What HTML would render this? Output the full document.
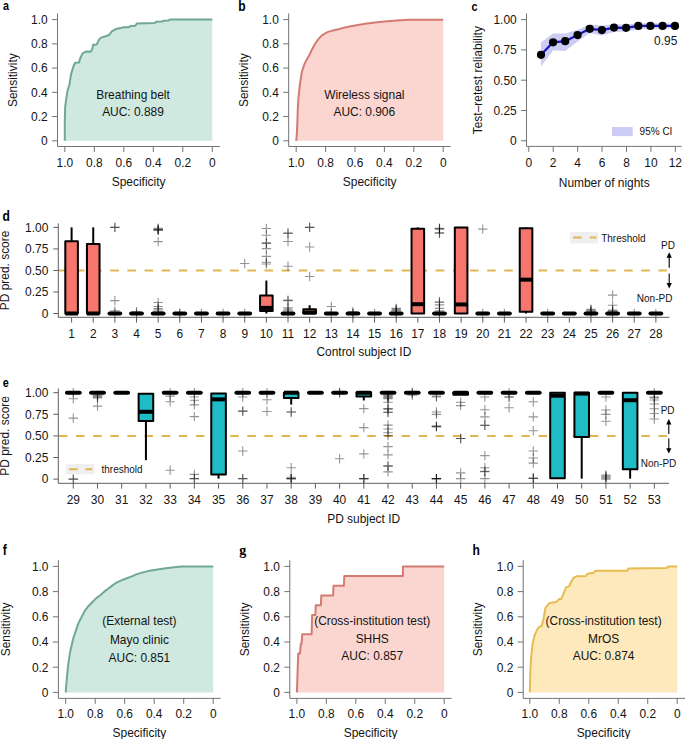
<!DOCTYPE html>
<html lang="en"><head><meta charset="utf-8"><title>Figure</title>
<style>
html,body{margin:0;padding:0;background:#fff;}
svg{display:block;}
svg text{font-family:"Liberation Sans", Arial, Helvetica, sans-serif;}
</style></head>
<body>
<svg width="685" height="739" viewBox="0 0 685 739">
<rect width="685" height="739" fill="#fff"/>
<path d="M64.8 140.8 L64.8 120.7 L65.2 106.5 L67.4 91.2 L69.5 84.2 L71.0 74.4 L73.4 66.5 L75.0 62.8 L78.9 62.6 L80.6 57.3 L82.9 53.1 L85.9 51.6 L90.7 51.8 L92.4 48.8 L93.1 44.8 L96.8 44.4 L99.0 39.6 L101.0 37.6 L105.6 36.3 L109.1 35.0 L111.5 31.7 L115.7 29.1 L120.7 28.1 L123.3 27.3 L128.6 27.3 L130.5 26.0 L135.1 25.8 L137.0 23.4 L154.7 23.1 L156.0 21.8 L161.9 21.6 L163.2 20.8 L168.5 20.4 L169.8 19.6 L212.3 19.6 L212.3 140.8 L64.8 140.8 Z" fill="#cfe8e0" stroke="none"/>
<path d="M64.8 140.8 L64.8 120.7 L65.2 106.5 L67.4 91.2 L69.5 84.2 L71.0 74.4 L73.4 66.5 L75.0 62.8 L78.9 62.6 L80.6 57.3 L82.9 53.1 L85.9 51.6 L90.7 51.8 L92.4 48.8 L93.1 44.8 L96.8 44.4 L99.0 39.6 L101.0 37.6 L105.6 36.3 L109.1 35.0 L111.5 31.7 L115.7 29.1 L120.7 28.1 L123.3 27.3 L128.6 27.3 L130.5 26.0 L135.1 25.8 L137.0 23.4 L154.7 23.1 L156.0 21.8 L161.9 21.6 L163.2 20.8 L168.5 20.4 L169.8 19.6 L212.3 19.6" fill="none" stroke="#70a797" stroke-width="2.0" stroke-linejoin="round" stroke-linecap="butt"/>
<path d="M57.50 13.40V146.50H219.90" fill="none" stroke="#6c6c6c" stroke-width="0.95"/>
<line x1="64.85" y1="146.50" x2="64.85" y2="152.00" stroke="#6c6c6c" stroke-width="0.95"/>
<text transform="translate(64.85 166.50) scale(1 1.06)" font-size="11.95" text-anchor="middle" fill="#141414">1.0</text>
<line x1="94.34" y1="146.50" x2="94.34" y2="152.00" stroke="#6c6c6c" stroke-width="0.95"/>
<text transform="translate(94.34 166.50) scale(1 1.06)" font-size="11.95" text-anchor="middle" fill="#141414">0.8</text>
<line x1="123.83" y1="146.50" x2="123.83" y2="152.00" stroke="#6c6c6c" stroke-width="0.95"/>
<text transform="translate(123.83 166.50) scale(1 1.06)" font-size="11.95" text-anchor="middle" fill="#141414">0.6</text>
<line x1="153.32" y1="146.50" x2="153.32" y2="152.00" stroke="#6c6c6c" stroke-width="0.95"/>
<text transform="translate(153.32 166.50) scale(1 1.06)" font-size="11.95" text-anchor="middle" fill="#141414">0.4</text>
<line x1="182.81" y1="146.50" x2="182.81" y2="152.00" stroke="#6c6c6c" stroke-width="0.95"/>
<text transform="translate(182.81 166.50) scale(1 1.06)" font-size="11.95" text-anchor="middle" fill="#141414">0.2</text>
<line x1="212.30" y1="146.50" x2="212.30" y2="152.00" stroke="#6c6c6c" stroke-width="0.95"/>
<text transform="translate(212.30 166.50) scale(1 1.06)" font-size="11.95" text-anchor="middle" fill="#141414">0</text>
<line x1="52.00" y1="19.60" x2="57.50" y2="19.60" stroke="#6c6c6c" stroke-width="0.95"/>
<text transform="translate(47.60 23.90) scale(1 1.06)" font-size="11.95" text-anchor="end" fill="#141414">1.0</text>
<line x1="52.00" y1="43.84" x2="57.50" y2="43.84" stroke="#6c6c6c" stroke-width="0.95"/>
<text transform="translate(47.60 48.14) scale(1 1.06)" font-size="11.95" text-anchor="end" fill="#141414">0.8</text>
<line x1="52.00" y1="68.08" x2="57.50" y2="68.08" stroke="#6c6c6c" stroke-width="0.95"/>
<text transform="translate(47.60 72.38) scale(1 1.06)" font-size="11.95" text-anchor="end" fill="#141414">0.6</text>
<line x1="52.00" y1="92.32" x2="57.50" y2="92.32" stroke="#6c6c6c" stroke-width="0.95"/>
<text transform="translate(47.60 96.62) scale(1 1.06)" font-size="11.95" text-anchor="end" fill="#141414">0.4</text>
<line x1="52.00" y1="116.56" x2="57.50" y2="116.56" stroke="#6c6c6c" stroke-width="0.95"/>
<text transform="translate(47.60 120.86) scale(1 1.06)" font-size="11.95" text-anchor="end" fill="#141414">0.2</text>
<line x1="52.00" y1="140.80" x2="57.50" y2="140.80" stroke="#6c6c6c" stroke-width="0.95"/>
<text transform="translate(47.60 145.10) scale(1 1.06)" font-size="11.95" text-anchor="end" fill="#141414">0</text>
<text transform="translate(138.57 186.20) scale(1 1.06)" font-size="11.95" text-anchor="middle" fill="#141414">Specificity</text>
<text transform="translate(17.20 80.20) rotate(-90) scale(1.0 1.1)" font-size="11.95" text-anchor="middle" fill="#141414">Sensitivity</text>
<text transform="translate(133.00 99.00) scale(1 1.06)" font-size="11.95" text-anchor="middle" fill="#141414">Breathing belt</text>
<text transform="translate(133.00 116.40) scale(1 1.06)" font-size="11.95" text-anchor="middle" fill="#141414">AUC: 0.889</text>
<text transform="translate(3.00 10.40) scale(0.85 1.06)" font-size="12.7" text-anchor="start" fill="#000" font-weight="bold">a</text>
<path d="M296.2 140.8 L296.9 133.1 L297.4 120.9 L297.8 108.7 L298.6 96.5 L299.9 84.4 L301.8 72.2 L304.3 64.4 L307.3 58.6 L309.8 54.4 L311.5 50.4 L315.0 44.0 L318.2 39.3 L321.8 35.3 L327.4 32.1 L333.0 30.4 L338.4 29.2 L345.0 27.4 L349.5 26.6 L358.0 25.0 L366.9 23.6 L375.0 22.5 L384.3 21.4 L396.7 20.5 L409.1 19.8 L443.2 19.7 L443.2 140.8 L296.2 140.8 Z" fill="#fbd6d1" stroke="none"/>
<path d="M296.2 140.8 L296.9 133.1 L297.4 120.9 L297.8 108.7 L298.6 96.5 L299.9 84.4 L301.8 72.2 L304.3 64.4 L307.3 58.6 L309.8 54.4 L311.5 50.4 L315.0 44.0 L318.2 39.3 L321.8 35.3 L327.4 32.1 L333.0 30.4 L338.4 29.2 L345.0 27.4 L349.5 26.6 L358.0 25.0 L366.9 23.6 L375.0 22.5 L384.3 21.4 L396.7 20.5 L409.1 19.8 L443.2 19.7" fill="none" stroke="#d37b73" stroke-width="2.0" stroke-linejoin="round" stroke-linecap="butt"/>
<path d="M288.70 13.40V146.50H450.60" fill="none" stroke="#6c6c6c" stroke-width="0.95"/>
<line x1="296.20" y1="146.50" x2="296.20" y2="152.00" stroke="#6c6c6c" stroke-width="0.95"/>
<text transform="translate(296.20 166.50) scale(1 1.06)" font-size="11.95" text-anchor="middle" fill="#141414">1.0</text>
<line x1="325.60" y1="146.50" x2="325.60" y2="152.00" stroke="#6c6c6c" stroke-width="0.95"/>
<text transform="translate(325.60 166.50) scale(1 1.06)" font-size="11.95" text-anchor="middle" fill="#141414">0.8</text>
<line x1="355.00" y1="146.50" x2="355.00" y2="152.00" stroke="#6c6c6c" stroke-width="0.95"/>
<text transform="translate(355.00 166.50) scale(1 1.06)" font-size="11.95" text-anchor="middle" fill="#141414">0.6</text>
<line x1="384.40" y1="146.50" x2="384.40" y2="152.00" stroke="#6c6c6c" stroke-width="0.95"/>
<text transform="translate(384.40 166.50) scale(1 1.06)" font-size="11.95" text-anchor="middle" fill="#141414">0.4</text>
<line x1="413.80" y1="146.50" x2="413.80" y2="152.00" stroke="#6c6c6c" stroke-width="0.95"/>
<text transform="translate(413.80 166.50) scale(1 1.06)" font-size="11.95" text-anchor="middle" fill="#141414">0.2</text>
<line x1="443.20" y1="146.50" x2="443.20" y2="152.00" stroke="#6c6c6c" stroke-width="0.95"/>
<text transform="translate(443.20 166.50) scale(1 1.06)" font-size="11.95" text-anchor="middle" fill="#141414">0</text>
<line x1="283.20" y1="19.60" x2="288.70" y2="19.60" stroke="#6c6c6c" stroke-width="0.95"/>
<text transform="translate(278.80 23.90) scale(1 1.06)" font-size="11.95" text-anchor="end" fill="#141414">1.0</text>
<line x1="283.20" y1="43.84" x2="288.70" y2="43.84" stroke="#6c6c6c" stroke-width="0.95"/>
<text transform="translate(278.80 48.14) scale(1 1.06)" font-size="11.95" text-anchor="end" fill="#141414">0.8</text>
<line x1="283.20" y1="68.08" x2="288.70" y2="68.08" stroke="#6c6c6c" stroke-width="0.95"/>
<text transform="translate(278.80 72.38) scale(1 1.06)" font-size="11.95" text-anchor="end" fill="#141414">0.6</text>
<line x1="283.20" y1="92.32" x2="288.70" y2="92.32" stroke="#6c6c6c" stroke-width="0.95"/>
<text transform="translate(278.80 96.62) scale(1 1.06)" font-size="11.95" text-anchor="end" fill="#141414">0.4</text>
<line x1="283.20" y1="116.56" x2="288.70" y2="116.56" stroke="#6c6c6c" stroke-width="0.95"/>
<text transform="translate(278.80 120.86) scale(1 1.06)" font-size="11.95" text-anchor="end" fill="#141414">0.2</text>
<line x1="283.20" y1="140.80" x2="288.70" y2="140.80" stroke="#6c6c6c" stroke-width="0.95"/>
<text transform="translate(278.80 145.10) scale(1 1.06)" font-size="11.95" text-anchor="end" fill="#141414">0</text>
<text transform="translate(369.70 186.20) scale(1 1.06)" font-size="11.95" text-anchor="middle" fill="#141414">Specificity</text>
<text transform="translate(248.20 80.20) rotate(-90) scale(1.0 1.1)" font-size="11.95" text-anchor="middle" fill="#141414">Sensitivity</text>
<text transform="translate(364.30 99.00) scale(1 1.06)" font-size="11.95" text-anchor="middle" fill="#141414">Wireless signal</text>
<text transform="translate(364.30 116.40) scale(1 1.06)" font-size="11.95" text-anchor="middle" fill="#141414">AUC: 0.906</text>
<text transform="translate(238.30 10.60) scale(0.85 1.0)" font-size="14.2" text-anchor="start" fill="#000" font-weight="bold">b</text>
<polygon points="541.0,42.4 553.1,33.6 565.2,33.6 577.6,29.8 589.7,24.5 601.9,25.5 614.0,24.3 626.1,24.5 638.3,23.3 650.4,23.3 662.6,23.3 675.0,23.5 675.0,28.2 662.6,28.7 650.4,28.7 638.3,29.2 626.1,31.5 614.0,32.0 601.9,35.4 589.7,33.0 577.6,41.5 565.2,51.0 553.1,50.3 541.0,66.4" fill="#ccccf5"/>
<polyline points="541.0,54.8 553.1,42.3 565.2,41.2 577.6,35.1 589.7,28.8 601.9,30.1 614.0,27.6 626.1,27.8 638.3,25.9 650.4,25.9 662.6,25.9 675.0,25.9" fill="none" stroke="#1616c4" stroke-width="2.2" stroke-linejoin="round"/>
<circle cx="541.0" cy="54.8" r="4.1" fill="#000"/>
<circle cx="553.1" cy="42.3" r="4.1" fill="#000"/>
<circle cx="565.2" cy="41.2" r="4.1" fill="#000"/>
<circle cx="577.6" cy="35.1" r="4.1" fill="#000"/>
<circle cx="589.7" cy="28.8" r="4.1" fill="#000"/>
<circle cx="601.9" cy="30.1" r="4.1" fill="#000"/>
<circle cx="614.0" cy="27.6" r="4.1" fill="#000"/>
<circle cx="626.1" cy="27.8" r="4.1" fill="#000"/>
<circle cx="638.3" cy="25.9" r="4.1" fill="#000"/>
<circle cx="650.4" cy="25.9" r="4.1" fill="#000"/>
<circle cx="662.6" cy="25.9" r="4.1" fill="#000"/>
<circle cx="675.0" cy="25.9" r="4.1" fill="#000"/>
<path d="M526.50 13.40V146.40H681.60" fill="none" stroke="#6c6c6c" stroke-width="0.95"/>
<line x1="528.75" y1="146.40" x2="528.75" y2="151.90" stroke="#6c6c6c" stroke-width="0.95"/>
<text transform="translate(528.75 166.70) scale(1 1.06)" font-size="11.95" text-anchor="middle" fill="#141414">0</text>
<line x1="553.18" y1="146.40" x2="553.18" y2="151.90" stroke="#6c6c6c" stroke-width="0.95"/>
<text transform="translate(553.18 166.70) scale(1 1.06)" font-size="11.95" text-anchor="middle" fill="#141414">2</text>
<line x1="577.61" y1="146.40" x2="577.61" y2="151.90" stroke="#6c6c6c" stroke-width="0.95"/>
<text transform="translate(577.61 166.70) scale(1 1.06)" font-size="11.95" text-anchor="middle" fill="#141414">4</text>
<line x1="602.04" y1="146.40" x2="602.04" y2="151.90" stroke="#6c6c6c" stroke-width="0.95"/>
<text transform="translate(602.04 166.70) scale(1 1.06)" font-size="11.95" text-anchor="middle" fill="#141414">6</text>
<line x1="626.47" y1="146.40" x2="626.47" y2="151.90" stroke="#6c6c6c" stroke-width="0.95"/>
<text transform="translate(626.47 166.70) scale(1 1.06)" font-size="11.95" text-anchor="middle" fill="#141414">8</text>
<line x1="650.90" y1="146.40" x2="650.90" y2="151.90" stroke="#6c6c6c" stroke-width="0.95"/>
<text transform="translate(650.90 166.70) scale(1 1.06)" font-size="11.95" text-anchor="middle" fill="#141414">10</text>
<line x1="675.33" y1="146.40" x2="675.33" y2="151.90" stroke="#6c6c6c" stroke-width="0.95"/>
<text transform="translate(675.33 166.70) scale(1 1.06)" font-size="11.95" text-anchor="middle" fill="#141414">12</text>
<line x1="521.00" y1="19.60" x2="526.50" y2="19.60" stroke="#6c6c6c" stroke-width="0.95"/>
<text transform="translate(516.70 23.90) scale(1 1.06)" font-size="11.95" text-anchor="end" fill="#141414">1.00</text>
<line x1="521.00" y1="49.90" x2="526.50" y2="49.90" stroke="#6c6c6c" stroke-width="0.95"/>
<text transform="translate(516.70 54.20) scale(1 1.06)" font-size="11.95" text-anchor="end" fill="#141414">0.75</text>
<line x1="521.00" y1="80.20" x2="526.50" y2="80.20" stroke="#6c6c6c" stroke-width="0.95"/>
<text transform="translate(516.70 84.50) scale(1 1.06)" font-size="11.95" text-anchor="end" fill="#141414">0.50</text>
<line x1="521.00" y1="110.50" x2="526.50" y2="110.50" stroke="#6c6c6c" stroke-width="0.95"/>
<text transform="translate(516.70 114.80) scale(1 1.06)" font-size="11.95" text-anchor="end" fill="#141414">0.25</text>
<line x1="521.00" y1="140.80" x2="526.50" y2="140.80" stroke="#6c6c6c" stroke-width="0.95"/>
<text transform="translate(516.70 145.10) scale(1 1.06)" font-size="11.95" text-anchor="end" fill="#141414">0</text>
<text transform="translate(604.20 186.70) scale(1 1.06)" font-size="11.95" text-anchor="middle" fill="#141414">Number of nights</text>
<text transform="translate(481.90 80.20) rotate(-90) scale(1.0 1.1)" font-size="11.95" text-anchor="middle" fill="#141414">Test–retest reliability</text>
<text transform="translate(677.30 45.00) scale(1 1.06)" font-size="11.95" text-anchor="end" fill="#141414">0.95</text>
<rect x="612" y="127" width="20.7" height="9.1" fill="#ccccf5"/>
<text transform="translate(639.60 135.40) scale(1 1.06)" font-size="10" text-anchor="start" fill="#141414">95% CI</text>
<text transform="translate(471.40 10.60) scale(0.85 1.06)" font-size="12.7" text-anchor="start" fill="#000" font-weight="bold">c</text>
<line x1="58.90" y1="270.45" x2="667.20" y2="270.45" stroke="#e1b550" stroke-width="2" stroke-dasharray="8.5 8.63"/>
<path d="M110.18 227.40H119.58M114.88 222.70V232.10" stroke="#000" stroke-opacity="0.42" stroke-width="1.1" fill="none"/>
<path d="M110.18 227.40H119.58M114.88 222.70V232.10" stroke="#000" stroke-opacity="0.42" stroke-width="1.1" fill="none"/>
<path d="M110.18 300.58H119.58M114.88 295.88V305.28" stroke="#000" stroke-opacity="0.42" stroke-width="1.1" fill="none"/>
<path d="M110.18 310.92H119.58M114.88 306.22V315.62" stroke="#000" stroke-opacity="0.42" stroke-width="1.1" fill="none"/>
<path d="M110.18 313.50H119.58M114.88 308.80V318.20" stroke="#000" stroke-opacity="0.42" stroke-width="1.1" fill="none"/>
<path d="M131.82 313.50H141.22M136.52 308.80V318.20" stroke="#000" stroke-opacity="0.42" stroke-width="1.1" fill="none"/>
<path d="M131.82 311.78H141.22M136.52 307.08V316.48" stroke="#000" stroke-opacity="0.42" stroke-width="1.1" fill="none"/>
<path d="M153.46 228.26H162.86M158.16 223.56V232.96" stroke="#000" stroke-opacity="0.42" stroke-width="1.1" fill="none"/>
<path d="M153.46 229.12H162.86M158.16 224.42V233.82" stroke="#000" stroke-opacity="0.42" stroke-width="1.1" fill="none"/>
<path d="M153.46 229.55H162.86M158.16 224.85V234.25" stroke="#000" stroke-opacity="0.42" stroke-width="1.1" fill="none"/>
<path d="M153.46 229.98H162.86M158.16 225.28V234.68" stroke="#000" stroke-opacity="0.42" stroke-width="1.1" fill="none"/>
<path d="M153.46 230.41H162.86M158.16 225.71V235.11" stroke="#000" stroke-opacity="0.42" stroke-width="1.1" fill="none"/>
<path d="M153.46 241.61H162.86M158.16 236.91V246.31" stroke="#000" stroke-opacity="0.42" stroke-width="1.1" fill="none"/>
<path d="M153.46 302.48H162.86M158.16 297.78V307.18" stroke="#000" stroke-opacity="0.42" stroke-width="1.1" fill="none"/>
<path d="M153.46 306.44H162.86M158.16 301.74V311.14" stroke="#000" stroke-opacity="0.42" stroke-width="1.1" fill="none"/>
<path d="M153.46 308.59H162.86M158.16 303.89V313.29" stroke="#000" stroke-opacity="0.42" stroke-width="1.1" fill="none"/>
<path d="M153.46 310.06H162.86M158.16 305.36V314.76" stroke="#000" stroke-opacity="0.42" stroke-width="1.1" fill="none"/>
<path d="M153.46 311.78H162.86M158.16 307.08V316.48" stroke="#000" stroke-opacity="0.42" stroke-width="1.1" fill="none"/>
<path d="M175.10 313.50H184.50M179.80 308.80V318.20" stroke="#000" stroke-opacity="0.42" stroke-width="1.1" fill="none"/>
<path d="M175.10 313.50H184.50M179.80 308.80V318.20" stroke="#000" stroke-opacity="0.42" stroke-width="1.1" fill="none"/>
<path d="M196.74 313.50H206.14M201.44 308.80V318.20" stroke="#000" stroke-opacity="0.42" stroke-width="1.1" fill="none"/>
<path d="M218.38 313.50H227.78M223.08 308.80V318.20" stroke="#000" stroke-opacity="0.42" stroke-width="1.1" fill="none"/>
<path d="M240.02 263.56H249.42M244.72 258.86V268.26" stroke="#000" stroke-opacity="0.42" stroke-width="1.1" fill="none"/>
<path d="M240.02 313.50H249.42M244.72 308.80V318.20" stroke="#000" stroke-opacity="0.42" stroke-width="1.1" fill="none"/>
<path d="M261.66 228.52H271.06M266.36 223.82V233.22" stroke="#000" stroke-opacity="0.42" stroke-width="1.1" fill="none"/>
<path d="M261.66 235.24H271.06M266.36 230.54V239.94" stroke="#000" stroke-opacity="0.42" stroke-width="1.1" fill="none"/>
<path d="M261.66 242.90H271.06M266.36 238.20V247.60" stroke="#000" stroke-opacity="0.42" stroke-width="1.1" fill="none"/>
<path d="M261.66 243.33H271.06M266.36 238.63V248.03" stroke="#000" stroke-opacity="0.42" stroke-width="1.1" fill="none"/>
<path d="M261.66 248.67H271.06M266.36 243.97V253.37" stroke="#000" stroke-opacity="0.42" stroke-width="1.1" fill="none"/>
<path d="M261.66 256.33H271.06M266.36 251.63V261.03" stroke="#000" stroke-opacity="0.42" stroke-width="1.1" fill="none"/>
<path d="M261.66 262.27H271.06M266.36 257.57V266.97" stroke="#000" stroke-opacity="0.42" stroke-width="1.1" fill="none"/>
<path d="M261.66 263.99H271.06M266.36 259.29V268.69" stroke="#000" stroke-opacity="0.42" stroke-width="1.1" fill="none"/>
<path d="M283.30 232.91H292.70M288.00 228.21V237.61" stroke="#000" stroke-opacity="0.42" stroke-width="1.1" fill="none"/>
<path d="M283.30 233.43H292.70M288.00 228.73V238.13" stroke="#000" stroke-opacity="0.42" stroke-width="1.1" fill="none"/>
<path d="M283.30 241.43H292.70M288.00 236.73V246.13" stroke="#000" stroke-opacity="0.42" stroke-width="1.1" fill="none"/>
<path d="M283.30 266.23H292.70M288.00 261.53V270.93" stroke="#000" stroke-opacity="0.42" stroke-width="1.1" fill="none"/>
<path d="M283.30 300.15H292.70M288.00 295.45V304.85" stroke="#000" stroke-opacity="0.42" stroke-width="1.1" fill="none"/>
<path d="M283.30 300.58H292.70M288.00 295.88V305.28" stroke="#000" stroke-opacity="0.42" stroke-width="1.1" fill="none"/>
<path d="M283.30 307.90H292.70M288.00 303.20V312.60" stroke="#000" stroke-opacity="0.42" stroke-width="1.1" fill="none"/>
<path d="M283.30 309.19H292.70M288.00 304.50V313.89" stroke="#000" stroke-opacity="0.42" stroke-width="1.1" fill="none"/>
<path d="M283.30 310.92H292.70M288.00 306.22V315.62" stroke="#000" stroke-opacity="0.42" stroke-width="1.1" fill="none"/>
<path d="M283.30 313.50H292.70M288.00 308.80V318.20" stroke="#000" stroke-opacity="0.42" stroke-width="1.1" fill="none"/>
<path d="M304.94 227.40H314.34M309.64 222.70V232.10" stroke="#000" stroke-opacity="0.42" stroke-width="1.1" fill="none"/>
<path d="M304.94 227.40H314.34M309.64 222.70V232.10" stroke="#000" stroke-opacity="0.42" stroke-width="1.1" fill="none"/>
<path d="M304.94 246.94H314.34M309.64 242.24V251.64" stroke="#000" stroke-opacity="0.42" stroke-width="1.1" fill="none"/>
<path d="M304.94 276.48H314.34M309.64 271.78V281.18" stroke="#000" stroke-opacity="0.42" stroke-width="1.1" fill="none"/>
<path d="M326.58 306.44H335.98M331.28 301.74V311.14" stroke="#000" stroke-opacity="0.42" stroke-width="1.1" fill="none"/>
<path d="M326.58 313.50H335.98M331.28 308.80V318.20" stroke="#000" stroke-opacity="0.42" stroke-width="1.1" fill="none"/>
<path d="M348.22 313.50H357.62M352.92 308.80V318.20" stroke="#000" stroke-opacity="0.42" stroke-width="1.1" fill="none"/>
<path d="M348.22 313.50H357.62M352.92 308.80V318.20" stroke="#000" stroke-opacity="0.42" stroke-width="1.1" fill="none"/>
<path d="M348.22 311.78H357.62M352.92 307.08V316.48" stroke="#000" stroke-opacity="0.42" stroke-width="1.1" fill="none"/>
<path d="M369.86 313.50H379.26M374.56 308.80V318.20" stroke="#000" stroke-opacity="0.42" stroke-width="1.1" fill="none"/>
<path d="M391.50 308.33H400.90M396.20 303.63V313.03" stroke="#000" stroke-opacity="0.42" stroke-width="1.1" fill="none"/>
<path d="M391.50 309.19H400.90M396.20 304.50V313.89" stroke="#000" stroke-opacity="0.42" stroke-width="1.1" fill="none"/>
<path d="M391.50 310.06H400.90M396.20 305.36V314.76" stroke="#000" stroke-opacity="0.42" stroke-width="1.1" fill="none"/>
<path d="M391.50 310.92H400.90M396.20 306.22V315.62" stroke="#000" stroke-opacity="0.42" stroke-width="1.1" fill="none"/>
<path d="M391.50 313.50H400.90M396.20 308.80V318.20" stroke="#000" stroke-opacity="0.42" stroke-width="1.1" fill="none"/>
<path d="M391.50 313.50H400.90M396.20 308.80V318.20" stroke="#000" stroke-opacity="0.42" stroke-width="1.1" fill="none"/>
<path d="M434.78 228.26H444.18M439.48 223.56V232.96" stroke="#000" stroke-opacity="0.42" stroke-width="1.1" fill="none"/>
<path d="M434.78 228.69H444.18M439.48 223.99V233.39" stroke="#000" stroke-opacity="0.42" stroke-width="1.1" fill="none"/>
<path d="M434.78 229.12H444.18M439.48 224.42V233.82" stroke="#000" stroke-opacity="0.42" stroke-width="1.1" fill="none"/>
<path d="M434.78 232.57H444.18M439.48 227.87V237.27" stroke="#000" stroke-opacity="0.42" stroke-width="1.1" fill="none"/>
<path d="M434.78 233.43H444.18M439.48 228.73V238.13" stroke="#000" stroke-opacity="0.42" stroke-width="1.1" fill="none"/>
<path d="M434.78 302.05H444.18M439.48 297.35V306.75" stroke="#000" stroke-opacity="0.42" stroke-width="1.1" fill="none"/>
<path d="M434.78 302.31H444.18M439.48 297.61V307.01" stroke="#000" stroke-opacity="0.42" stroke-width="1.1" fill="none"/>
<path d="M434.78 304.89H444.18M439.48 300.19V309.59" stroke="#000" stroke-opacity="0.42" stroke-width="1.1" fill="none"/>
<path d="M434.78 308.33H444.18M439.48 303.63V313.03" stroke="#000" stroke-opacity="0.42" stroke-width="1.1" fill="none"/>
<path d="M434.78 310.92H444.18M439.48 306.22V315.62" stroke="#000" stroke-opacity="0.42" stroke-width="1.1" fill="none"/>
<path d="M434.78 313.50H444.18M439.48 308.80V318.20" stroke="#000" stroke-opacity="0.42" stroke-width="1.1" fill="none"/>
<path d="M434.78 313.50H444.18M439.48 308.80V318.20" stroke="#000" stroke-opacity="0.42" stroke-width="1.1" fill="none"/>
<path d="M478.06 229.12H487.46M482.76 224.42V233.82" stroke="#000" stroke-opacity="0.42" stroke-width="1.1" fill="none"/>
<path d="M478.06 313.50H487.46M482.76 308.80V318.20" stroke="#000" stroke-opacity="0.42" stroke-width="1.1" fill="none"/>
<path d="M499.70 313.50H509.10M504.40 308.80V318.20" stroke="#000" stroke-opacity="0.42" stroke-width="1.1" fill="none"/>
<path d="M542.98 313.50H552.38M547.68 308.80V318.20" stroke="#000" stroke-opacity="0.42" stroke-width="1.1" fill="none"/>
<path d="M586.26 309.19H595.66M590.96 304.50V313.89" stroke="#000" stroke-opacity="0.42" stroke-width="1.1" fill="none"/>
<path d="M586.26 310.06H595.66M590.96 305.36V314.76" stroke="#000" stroke-opacity="0.42" stroke-width="1.1" fill="none"/>
<path d="M586.26 310.92H595.66M590.96 306.22V315.62" stroke="#000" stroke-opacity="0.42" stroke-width="1.1" fill="none"/>
<path d="M586.26 311.78H595.66M590.96 307.08V316.48" stroke="#000" stroke-opacity="0.42" stroke-width="1.1" fill="none"/>
<path d="M586.26 313.50H595.66M590.96 308.80V318.20" stroke="#000" stroke-opacity="0.42" stroke-width="1.1" fill="none"/>
<path d="M607.90 295.16H617.30M612.60 290.46V299.86" stroke="#000" stroke-opacity="0.42" stroke-width="1.1" fill="none"/>
<path d="M607.90 305.23H617.30M612.60 300.53V309.93" stroke="#000" stroke-opacity="0.42" stroke-width="1.1" fill="none"/>
<path d="M607.90 310.06H617.30M612.60 305.36V314.76" stroke="#000" stroke-opacity="0.42" stroke-width="1.1" fill="none"/>
<path d="M607.90 310.92H617.30M612.60 306.22V315.62" stroke="#000" stroke-opacity="0.42" stroke-width="1.1" fill="none"/>
<path d="M607.90 311.78H617.30M612.60 307.08V316.48" stroke="#000" stroke-opacity="0.42" stroke-width="1.1" fill="none"/>
<path d="M607.90 313.50H617.30M612.60 308.80V318.20" stroke="#000" stroke-opacity="0.42" stroke-width="1.1" fill="none"/>
<path d="M629.54 313.50H638.94M634.24 308.80V318.20" stroke="#000" stroke-opacity="0.42" stroke-width="1.1" fill="none"/>
<path d="M651.18 313.50H660.58M655.88 308.80V318.20" stroke="#000" stroke-opacity="0.42" stroke-width="1.1" fill="none"/>
<line x1="71.60" y1="241.35" x2="71.60" y2="227.40" stroke="#000" stroke-width="2.0"/>
<rect x="65.30" y="241.35" width="12.60" height="72.15" fill="#f6766d" stroke="#000" stroke-width="2" stroke-linejoin="round"/>
<line x1="65.30" y1="313.50" x2="77.90" y2="313.50" stroke="#000" stroke-width="4"/>
<line x1="93.24" y1="243.93" x2="93.24" y2="227.40" stroke="#000" stroke-width="2.0"/>
<rect x="86.94" y="243.93" width="12.60" height="69.57" fill="#f6766d" stroke="#000" stroke-width="2" stroke-linejoin="round"/>
<line x1="86.94" y1="313.50" x2="99.54" y2="313.50" stroke="#000" stroke-width="4"/>
<rect x="108.58" y="313.50" width="12.60" height="0.01" fill="#f6766d" stroke="#000" stroke-width="2" stroke-linejoin="round"/>
<line x1="109.58" y1="313.50" x2="120.18" y2="313.50" stroke="#000" stroke-width="4" stroke-linecap="round"/>
<rect x="130.22" y="313.50" width="12.60" height="0.01" fill="#f6766d" stroke="#000" stroke-width="2" stroke-linejoin="round"/>
<line x1="131.22" y1="313.50" x2="141.82" y2="313.50" stroke="#000" stroke-width="4" stroke-linecap="round"/>
<rect x="151.86" y="313.50" width="12.60" height="0.01" fill="#f6766d" stroke="#000" stroke-width="2" stroke-linejoin="round"/>
<line x1="152.86" y1="313.50" x2="163.46" y2="313.50" stroke="#000" stroke-width="4" stroke-linecap="round"/>
<rect x="173.50" y="313.50" width="12.60" height="0.01" fill="#f6766d" stroke="#000" stroke-width="2" stroke-linejoin="round"/>
<line x1="174.50" y1="313.50" x2="185.10" y2="313.50" stroke="#000" stroke-width="4" stroke-linecap="round"/>
<rect x="195.14" y="313.50" width="12.60" height="0.01" fill="#f6766d" stroke="#000" stroke-width="2" stroke-linejoin="round"/>
<line x1="196.14" y1="313.50" x2="206.74" y2="313.50" stroke="#000" stroke-width="4" stroke-linecap="round"/>
<rect x="216.78" y="313.50" width="12.60" height="0.01" fill="#f6766d" stroke="#000" stroke-width="2" stroke-linejoin="round"/>
<line x1="217.78" y1="313.50" x2="228.38" y2="313.50" stroke="#000" stroke-width="4" stroke-linecap="round"/>
<rect x="238.42" y="313.50" width="12.60" height="0.01" fill="#f6766d" stroke="#000" stroke-width="2" stroke-linejoin="round"/>
<line x1="239.42" y1="313.50" x2="250.02" y2="313.50" stroke="#000" stroke-width="4" stroke-linecap="round"/>
<line x1="266.36" y1="295.42" x2="266.36" y2="280.52" stroke="#000" stroke-width="2.0"/>
<line x1="266.36" y1="310.92" x2="266.36" y2="313.50" stroke="#000" stroke-width="2.0"/>
<rect x="260.06" y="295.42" width="12.60" height="15.50" fill="#f6766d" stroke="#000" stroke-width="2" stroke-linejoin="round"/>
<line x1="260.06" y1="307.90" x2="272.66" y2="307.90" stroke="#000" stroke-width="4"/>
<rect x="281.70" y="313.50" width="12.60" height="0.01" fill="#f6766d" stroke="#000" stroke-width="2" stroke-linejoin="round"/>
<line x1="282.70" y1="313.50" x2="293.30" y2="313.50" stroke="#000" stroke-width="4" stroke-linecap="round"/>
<line x1="309.64" y1="309.19" x2="309.64" y2="305.23" stroke="#000" stroke-width="2.0"/>
<rect x="303.34" y="309.19" width="12.60" height="4.31" fill="#f6766d" stroke="#000" stroke-width="2" stroke-linejoin="round"/>
<line x1="304.34" y1="312.47" x2="314.94" y2="312.47" stroke="#000" stroke-width="4" stroke-linecap="round"/>
<rect x="324.98" y="313.50" width="12.60" height="0.01" fill="#f6766d" stroke="#000" stroke-width="2" stroke-linejoin="round"/>
<line x1="325.98" y1="313.50" x2="336.58" y2="313.50" stroke="#000" stroke-width="4" stroke-linecap="round"/>
<rect x="346.62" y="313.50" width="12.60" height="0.01" fill="#f6766d" stroke="#000" stroke-width="2" stroke-linejoin="round"/>
<line x1="347.62" y1="313.50" x2="358.22" y2="313.50" stroke="#000" stroke-width="4" stroke-linecap="round"/>
<rect x="368.26" y="313.50" width="12.60" height="0.01" fill="#f6766d" stroke="#000" stroke-width="2" stroke-linejoin="round"/>
<line x1="369.26" y1="313.50" x2="379.86" y2="313.50" stroke="#000" stroke-width="4" stroke-linecap="round"/>
<rect x="389.90" y="313.50" width="12.60" height="0.01" fill="#f6766d" stroke="#000" stroke-width="2" stroke-linejoin="round"/>
<line x1="390.90" y1="313.50" x2="401.50" y2="313.50" stroke="#000" stroke-width="4" stroke-linecap="round"/>
<line x1="417.84" y1="228.69" x2="417.84" y2="227.40" stroke="#000" stroke-width="2.0"/>
<rect x="411.54" y="228.69" width="12.60" height="84.81" fill="#f6766d" stroke="#000" stroke-width="2" stroke-linejoin="round"/>
<line x1="411.54" y1="304.20" x2="424.14" y2="304.20" stroke="#000" stroke-width="4"/>
<rect x="433.18" y="313.50" width="12.60" height="0.01" fill="#f6766d" stroke="#000" stroke-width="2" stroke-linejoin="round"/>
<line x1="434.18" y1="313.50" x2="444.78" y2="313.50" stroke="#000" stroke-width="4" stroke-linecap="round"/>
<rect x="454.82" y="227.40" width="12.60" height="86.10" fill="#f6766d" stroke="#000" stroke-width="2" stroke-linejoin="round"/>
<line x1="454.82" y1="304.46" x2="467.42" y2="304.46" stroke="#000" stroke-width="4"/>
<rect x="476.46" y="313.50" width="12.60" height="0.01" fill="#f6766d" stroke="#000" stroke-width="2" stroke-linejoin="round"/>
<line x1="477.46" y1="313.50" x2="488.06" y2="313.50" stroke="#000" stroke-width="4" stroke-linecap="round"/>
<rect x="498.10" y="313.50" width="12.60" height="0.01" fill="#f6766d" stroke="#000" stroke-width="2" stroke-linejoin="round"/>
<line x1="499.10" y1="313.50" x2="509.70" y2="313.50" stroke="#000" stroke-width="4" stroke-linecap="round"/>
<line x1="526.04" y1="228.26" x2="526.04" y2="227.40" stroke="#000" stroke-width="2.0"/>
<line x1="526.04" y1="311.78" x2="526.04" y2="313.50" stroke="#000" stroke-width="2.0"/>
<rect x="519.74" y="228.26" width="12.60" height="83.52" fill="#f6766d" stroke="#000" stroke-width="2" stroke-linejoin="round"/>
<line x1="519.74" y1="279.66" x2="532.34" y2="279.66" stroke="#000" stroke-width="4"/>
<rect x="541.38" y="313.50" width="12.60" height="0.01" fill="#f6766d" stroke="#000" stroke-width="2" stroke-linejoin="round"/>
<line x1="542.38" y1="313.50" x2="552.98" y2="313.50" stroke="#000" stroke-width="4" stroke-linecap="round"/>
<rect x="563.02" y="313.50" width="12.60" height="0.01" fill="#f6766d" stroke="#000" stroke-width="2" stroke-linejoin="round"/>
<line x1="564.02" y1="313.50" x2="574.62" y2="313.50" stroke="#000" stroke-width="4" stroke-linecap="round"/>
<rect x="584.66" y="313.50" width="12.60" height="0.01" fill="#f6766d" stroke="#000" stroke-width="2" stroke-linejoin="round"/>
<line x1="585.66" y1="313.50" x2="596.26" y2="313.50" stroke="#000" stroke-width="4" stroke-linecap="round"/>
<rect x="606.30" y="313.50" width="12.60" height="0.01" fill="#f6766d" stroke="#000" stroke-width="2" stroke-linejoin="round"/>
<line x1="607.30" y1="313.50" x2="617.90" y2="313.50" stroke="#000" stroke-width="4" stroke-linecap="round"/>
<rect x="627.94" y="313.50" width="12.60" height="0.01" fill="#f6766d" stroke="#000" stroke-width="2" stroke-linejoin="round"/>
<line x1="628.94" y1="313.50" x2="639.54" y2="313.50" stroke="#000" stroke-width="4" stroke-linecap="round"/>
<rect x="649.58" y="313.50" width="12.60" height="0.01" fill="#f6766d" stroke="#000" stroke-width="2" stroke-linejoin="round"/>
<line x1="650.58" y1="313.50" x2="661.18" y2="313.50" stroke="#000" stroke-width="4" stroke-linecap="round"/>
<path d="M58.30 223.40V317.30H669.40" fill="none" stroke="#555555" stroke-width="0.95"/>
<line x1="53.30" y1="227.40" x2="58.30" y2="227.40" stroke="#555555" stroke-width="0.95"/>
<text transform="translate(48.30 231.70) scale(1 1.06)" font-size="11.95" text-anchor="end" fill="#141414">1.00</text>
<line x1="53.30" y1="248.93" x2="58.30" y2="248.93" stroke="#555555" stroke-width="0.95"/>
<text transform="translate(48.30 253.23) scale(1 1.06)" font-size="11.95" text-anchor="end" fill="#141414">0.75</text>
<line x1="53.30" y1="270.45" x2="58.30" y2="270.45" stroke="#555555" stroke-width="0.95"/>
<text transform="translate(48.30 274.75) scale(1 1.06)" font-size="11.95" text-anchor="end" fill="#141414">0.50</text>
<line x1="53.30" y1="291.98" x2="58.30" y2="291.98" stroke="#555555" stroke-width="0.95"/>
<text transform="translate(48.30 296.28) scale(1 1.06)" font-size="11.95" text-anchor="end" fill="#141414">0.25</text>
<line x1="53.30" y1="313.50" x2="58.30" y2="313.50" stroke="#555555" stroke-width="0.95"/>
<text transform="translate(48.30 317.80) scale(1 1.06)" font-size="11.95" text-anchor="end" fill="#141414">0</text>
<line x1="71.60" y1="317.30" x2="71.60" y2="322.60" stroke="#555555" stroke-width="0.95"/>
<text transform="translate(71.60 338.30) scale(1 1.06)" font-size="11.95" text-anchor="middle" fill="#141414">1</text>
<line x1="93.24" y1="317.30" x2="93.24" y2="322.60" stroke="#555555" stroke-width="0.95"/>
<text transform="translate(93.24 338.30) scale(1 1.06)" font-size="11.95" text-anchor="middle" fill="#141414">2</text>
<line x1="114.88" y1="317.30" x2="114.88" y2="322.60" stroke="#555555" stroke-width="0.95"/>
<text transform="translate(114.88 338.30) scale(1 1.06)" font-size="11.95" text-anchor="middle" fill="#141414">3</text>
<line x1="136.52" y1="317.30" x2="136.52" y2="322.60" stroke="#555555" stroke-width="0.95"/>
<text transform="translate(136.52 338.30) scale(1 1.06)" font-size="11.95" text-anchor="middle" fill="#141414">4</text>
<line x1="158.16" y1="317.30" x2="158.16" y2="322.60" stroke="#555555" stroke-width="0.95"/>
<text transform="translate(158.16 338.30) scale(1 1.06)" font-size="11.95" text-anchor="middle" fill="#141414">5</text>
<line x1="179.80" y1="317.30" x2="179.80" y2="322.60" stroke="#555555" stroke-width="0.95"/>
<text transform="translate(179.80 338.30) scale(1 1.06)" font-size="11.95" text-anchor="middle" fill="#141414">6</text>
<line x1="201.44" y1="317.30" x2="201.44" y2="322.60" stroke="#555555" stroke-width="0.95"/>
<text transform="translate(201.44 338.30) scale(1 1.06)" font-size="11.95" text-anchor="middle" fill="#141414">7</text>
<line x1="223.08" y1="317.30" x2="223.08" y2="322.60" stroke="#555555" stroke-width="0.95"/>
<text transform="translate(223.08 338.30) scale(1 1.06)" font-size="11.95" text-anchor="middle" fill="#141414">8</text>
<line x1="244.72" y1="317.30" x2="244.72" y2="322.60" stroke="#555555" stroke-width="0.95"/>
<text transform="translate(244.72 338.30) scale(1 1.06)" font-size="11.95" text-anchor="middle" fill="#141414">9</text>
<line x1="266.36" y1="317.30" x2="266.36" y2="322.60" stroke="#555555" stroke-width="0.95"/>
<text transform="translate(266.36 338.30) scale(1 1.06)" font-size="11.95" text-anchor="middle" fill="#141414">10</text>
<line x1="288.00" y1="317.30" x2="288.00" y2="322.60" stroke="#555555" stroke-width="0.95"/>
<text transform="translate(288.00 338.30) scale(1 1.06)" font-size="11.95" text-anchor="middle" fill="#141414">11</text>
<line x1="309.64" y1="317.30" x2="309.64" y2="322.60" stroke="#555555" stroke-width="0.95"/>
<text transform="translate(309.64 338.30) scale(1 1.06)" font-size="11.95" text-anchor="middle" fill="#141414">12</text>
<line x1="331.28" y1="317.30" x2="331.28" y2="322.60" stroke="#555555" stroke-width="0.95"/>
<text transform="translate(331.28 338.30) scale(1 1.06)" font-size="11.95" text-anchor="middle" fill="#141414">13</text>
<line x1="352.92" y1="317.30" x2="352.92" y2="322.60" stroke="#555555" stroke-width="0.95"/>
<text transform="translate(352.92 338.30) scale(1 1.06)" font-size="11.95" text-anchor="middle" fill="#141414">14</text>
<line x1="374.56" y1="317.30" x2="374.56" y2="322.60" stroke="#555555" stroke-width="0.95"/>
<text transform="translate(374.56 338.30) scale(1 1.06)" font-size="11.95" text-anchor="middle" fill="#141414">15</text>
<line x1="396.20" y1="317.30" x2="396.20" y2="322.60" stroke="#555555" stroke-width="0.95"/>
<text transform="translate(396.20 338.30) scale(1 1.06)" font-size="11.95" text-anchor="middle" fill="#141414">16</text>
<line x1="417.84" y1="317.30" x2="417.84" y2="322.60" stroke="#555555" stroke-width="0.95"/>
<text transform="translate(417.84 338.30) scale(1 1.06)" font-size="11.95" text-anchor="middle" fill="#141414">17</text>
<line x1="439.48" y1="317.30" x2="439.48" y2="322.60" stroke="#555555" stroke-width="0.95"/>
<text transform="translate(439.48 338.30) scale(1 1.06)" font-size="11.95" text-anchor="middle" fill="#141414">18</text>
<line x1="461.12" y1="317.30" x2="461.12" y2="322.60" stroke="#555555" stroke-width="0.95"/>
<text transform="translate(461.12 338.30) scale(1 1.06)" font-size="11.95" text-anchor="middle" fill="#141414">19</text>
<line x1="482.76" y1="317.30" x2="482.76" y2="322.60" stroke="#555555" stroke-width="0.95"/>
<text transform="translate(482.76 338.30) scale(1 1.06)" font-size="11.95" text-anchor="middle" fill="#141414">20</text>
<line x1="504.40" y1="317.30" x2="504.40" y2="322.60" stroke="#555555" stroke-width="0.95"/>
<text transform="translate(504.40 338.30) scale(1 1.06)" font-size="11.95" text-anchor="middle" fill="#141414">21</text>
<line x1="526.04" y1="317.30" x2="526.04" y2="322.60" stroke="#555555" stroke-width="0.95"/>
<text transform="translate(526.04 338.30) scale(1 1.06)" font-size="11.95" text-anchor="middle" fill="#141414">22</text>
<line x1="547.68" y1="317.30" x2="547.68" y2="322.60" stroke="#555555" stroke-width="0.95"/>
<text transform="translate(547.68 338.30) scale(1 1.06)" font-size="11.95" text-anchor="middle" fill="#141414">23</text>
<line x1="569.32" y1="317.30" x2="569.32" y2="322.60" stroke="#555555" stroke-width="0.95"/>
<text transform="translate(569.32 338.30) scale(1 1.06)" font-size="11.95" text-anchor="middle" fill="#141414">24</text>
<line x1="590.96" y1="317.30" x2="590.96" y2="322.60" stroke="#555555" stroke-width="0.95"/>
<text transform="translate(590.96 338.30) scale(1 1.06)" font-size="11.95" text-anchor="middle" fill="#141414">25</text>
<line x1="612.60" y1="317.30" x2="612.60" y2="322.60" stroke="#555555" stroke-width="0.95"/>
<text transform="translate(612.60 338.30) scale(1 1.06)" font-size="11.95" text-anchor="middle" fill="#141414">26</text>
<line x1="634.24" y1="317.30" x2="634.24" y2="322.60" stroke="#555555" stroke-width="0.95"/>
<text transform="translate(634.24 338.30) scale(1 1.06)" font-size="11.95" text-anchor="middle" fill="#141414">27</text>
<line x1="655.88" y1="317.30" x2="655.88" y2="322.60" stroke="#555555" stroke-width="0.95"/>
<text transform="translate(655.88 338.30) scale(1 1.06)" font-size="11.95" text-anchor="middle" fill="#141414">28</text>
<text transform="translate(363.85 355.70) scale(1 1.06)" font-size="11.95" text-anchor="middle" fill="#141414">Control subject ID</text>
<text transform="translate(9.30 270.45) rotate(-90) scale(1.0 1.1)" font-size="11.95" text-anchor="middle" fill="#141414">PD pred. score</text>
<text transform="translate(2.50 221.00) scale(0.85 1.0)" font-size="14.2" text-anchor="start" fill="#000" font-weight="bold">d</text>
<rect x="570" y="231.9" width="28.3" height="11.6" fill="#efefef"/>
<path d="M573 237.6H581.6M589.8 237.6H596.5" stroke="#e1b550" stroke-width="2"/>
<text transform="translate(601.20 241.50) scale(1 1.06)" font-size="10" text-anchor="start" fill="#141414">Threshold</text>
<text transform="translate(668.00 249.40) scale(1 1.06)" font-size="10" text-anchor="middle" fill="#141414">PD</text>
<text transform="translate(654.60 301.90) scale(1 1.06)" font-size="10" text-anchor="middle" fill="#141414">Non-PD</text>
<path d="M669.2 267.8V255.3M669.2 273.4V285.4" stroke="#000" stroke-width="1.1" fill="none"/>
<path d="M669.2 252.3l2.6 5.4h-5.2zM669.2 288.4l2.6 -5.4h-5.2z" fill="#000"/>
<line x1="58.90" y1="435.90" x2="667.30" y2="435.90" stroke="#e1b550" stroke-width="2" stroke-dasharray="8.5 8.63"/>
<path d="M68.60 392.70H78.00M73.30 388.00V397.40" stroke="#000" stroke-opacity="0.42" stroke-width="1.1" fill="none"/>
<path d="M68.60 398.75H78.00M73.30 394.05V403.45" stroke="#000" stroke-opacity="0.42" stroke-width="1.1" fill="none"/>
<path d="M68.60 418.10H78.00M73.30 413.40V422.80" stroke="#000" stroke-opacity="0.42" stroke-width="1.1" fill="none"/>
<path d="M68.60 479.10H78.00M73.30 474.40V483.80" stroke="#000" stroke-opacity="0.42" stroke-width="1.1" fill="none"/>
<path d="M68.60 479.10H78.00M73.30 474.40V483.80" stroke="#000" stroke-opacity="0.42" stroke-width="1.1" fill="none"/>
<path d="M92.81 395.29H102.21M97.51 390.59V399.99" stroke="#000" stroke-opacity="0.42" stroke-width="1.1" fill="none"/>
<path d="M92.81 396.16H102.21M97.51 391.46V400.86" stroke="#000" stroke-opacity="0.42" stroke-width="1.1" fill="none"/>
<path d="M92.81 397.02H102.21M97.51 392.32V401.72" stroke="#000" stroke-opacity="0.42" stroke-width="1.1" fill="none"/>
<path d="M92.81 397.88H102.21M97.51 393.18V402.58" stroke="#000" stroke-opacity="0.42" stroke-width="1.1" fill="none"/>
<path d="M92.81 406.09H102.21M97.51 401.39V410.79" stroke="#000" stroke-opacity="0.42" stroke-width="1.1" fill="none"/>
<path d="M165.44 392.70H174.84M170.14 388.00V397.40" stroke="#000" stroke-opacity="0.42" stroke-width="1.1" fill="none"/>
<path d="M165.44 396.16H174.84M170.14 391.46V400.86" stroke="#000" stroke-opacity="0.42" stroke-width="1.1" fill="none"/>
<path d="M165.44 401.69H174.84M170.14 396.99V406.39" stroke="#000" stroke-opacity="0.42" stroke-width="1.1" fill="none"/>
<path d="M165.44 470.20H174.84M170.14 465.50V474.90" stroke="#000" stroke-opacity="0.42" stroke-width="1.1" fill="none"/>
<path d="M189.65 392.70H199.05M194.35 388.00V397.40" stroke="#000" stroke-opacity="0.42" stroke-width="1.1" fill="none"/>
<path d="M189.65 397.02H199.05M194.35 392.32V401.72" stroke="#000" stroke-opacity="0.42" stroke-width="1.1" fill="none"/>
<path d="M189.65 400.22H199.05M194.35 395.52V404.92" stroke="#000" stroke-opacity="0.42" stroke-width="1.1" fill="none"/>
<path d="M189.65 404.88H199.05M194.35 400.18V409.58" stroke="#000" stroke-opacity="0.42" stroke-width="1.1" fill="none"/>
<path d="M189.65 416.63H199.05M194.35 411.93V421.33" stroke="#000" stroke-opacity="0.42" stroke-width="1.1" fill="none"/>
<path d="M189.65 474.35H199.05M194.35 469.65V479.05" stroke="#000" stroke-opacity="0.42" stroke-width="1.1" fill="none"/>
<path d="M189.65 478.67H199.05M194.35 473.97V483.37" stroke="#000" stroke-opacity="0.42" stroke-width="1.1" fill="none"/>
<path d="M189.65 478.67H199.05M194.35 473.97V483.37" stroke="#000" stroke-opacity="0.42" stroke-width="1.1" fill="none"/>
<path d="M238.07 392.70H247.47M242.77 388.00V397.40" stroke="#000" stroke-opacity="0.42" stroke-width="1.1" fill="none"/>
<path d="M238.07 397.02H247.47M242.77 392.32V401.72" stroke="#000" stroke-opacity="0.42" stroke-width="1.1" fill="none"/>
<path d="M238.07 411.10H247.47M242.77 406.40V415.80" stroke="#000" stroke-opacity="0.42" stroke-width="1.1" fill="none"/>
<path d="M238.07 411.10H247.47M242.77 406.40V415.80" stroke="#000" stroke-opacity="0.42" stroke-width="1.1" fill="none"/>
<path d="M238.07 450.93H247.47M242.77 446.23V455.63" stroke="#000" stroke-opacity="0.42" stroke-width="1.1" fill="none"/>
<path d="M238.07 478.67H247.47M242.77 473.97V483.37" stroke="#000" stroke-opacity="0.42" stroke-width="1.1" fill="none"/>
<path d="M238.07 478.67H247.47M242.77 473.97V483.37" stroke="#000" stroke-opacity="0.42" stroke-width="1.1" fill="none"/>
<path d="M262.28 392.70H271.68M266.98 388.00V397.40" stroke="#000" stroke-opacity="0.42" stroke-width="1.1" fill="none"/>
<path d="M262.28 399.78H271.68M266.98 395.08V404.48" stroke="#000" stroke-opacity="0.42" stroke-width="1.1" fill="none"/>
<path d="M262.28 411.54H271.68M266.98 406.84V416.24" stroke="#000" stroke-opacity="0.42" stroke-width="1.1" fill="none"/>
<path d="M286.49 411.97H295.89M291.19 407.27V416.67" stroke="#000" stroke-opacity="0.42" stroke-width="1.1" fill="none"/>
<path d="M286.49 411.97H295.89M291.19 407.27V416.67" stroke="#000" stroke-opacity="0.42" stroke-width="1.1" fill="none"/>
<path d="M286.49 467.78H295.89M291.19 463.08V472.48" stroke="#000" stroke-opacity="0.42" stroke-width="1.1" fill="none"/>
<path d="M286.49 477.29H295.89M291.19 472.59V481.99" stroke="#000" stroke-opacity="0.42" stroke-width="1.1" fill="none"/>
<path d="M286.49 478.67H295.89M291.19 473.97V483.37" stroke="#000" stroke-opacity="0.42" stroke-width="1.1" fill="none"/>
<path d="M286.49 478.67H295.89M291.19 473.97V483.37" stroke="#000" stroke-opacity="0.42" stroke-width="1.1" fill="none"/>
<path d="M286.49 478.67H295.89M291.19 473.97V483.37" stroke="#000" stroke-opacity="0.42" stroke-width="1.1" fill="none"/>
<path d="M334.91 392.70H344.31M339.61 388.00V397.40" stroke="#000" stroke-opacity="0.42" stroke-width="1.1" fill="none"/>
<path d="M334.91 392.70H344.31M339.61 388.00V397.40" stroke="#000" stroke-opacity="0.42" stroke-width="1.1" fill="none"/>
<path d="M334.91 458.71H344.31M339.61 454.01V463.41" stroke="#000" stroke-opacity="0.42" stroke-width="1.1" fill="none"/>
<path d="M359.12 408.60H368.52M363.82 403.90V413.30" stroke="#000" stroke-opacity="0.42" stroke-width="1.1" fill="none"/>
<path d="M359.12 427.61H368.52M363.82 422.91V432.31" stroke="#000" stroke-opacity="0.42" stroke-width="1.1" fill="none"/>
<path d="M359.12 453.87H368.52M363.82 449.17V458.57" stroke="#000" stroke-opacity="0.42" stroke-width="1.1" fill="none"/>
<path d="M359.12 478.67H368.52M363.82 473.97V483.37" stroke="#000" stroke-opacity="0.42" stroke-width="1.1" fill="none"/>
<path d="M359.12 478.67H368.52M363.82 473.97V483.37" stroke="#000" stroke-opacity="0.42" stroke-width="1.1" fill="none"/>
<path d="M359.12 478.67H368.52M363.82 473.97V483.37" stroke="#000" stroke-opacity="0.42" stroke-width="1.1" fill="none"/>
<path d="M383.33 395.29H392.73M388.03 390.59V399.99" stroke="#000" stroke-opacity="0.42" stroke-width="1.1" fill="none"/>
<path d="M383.33 396.16H392.73M388.03 391.46V400.86" stroke="#000" stroke-opacity="0.42" stroke-width="1.1" fill="none"/>
<path d="M383.33 397.02H392.73M388.03 392.32V401.72" stroke="#000" stroke-opacity="0.42" stroke-width="1.1" fill="none"/>
<path d="M383.33 397.88H392.73M388.03 393.18V402.58" stroke="#000" stroke-opacity="0.42" stroke-width="1.1" fill="none"/>
<path d="M383.33 398.75H392.73M388.03 394.05V403.45" stroke="#000" stroke-opacity="0.42" stroke-width="1.1" fill="none"/>
<path d="M383.33 402.20H392.73M388.03 397.50V406.90" stroke="#000" stroke-opacity="0.42" stroke-width="1.1" fill="none"/>
<path d="M383.33 408.60H392.73M388.03 403.90V413.30" stroke="#000" stroke-opacity="0.42" stroke-width="1.1" fill="none"/>
<path d="M383.33 409.12H392.73M388.03 404.42V413.82" stroke="#000" stroke-opacity="0.42" stroke-width="1.1" fill="none"/>
<path d="M383.33 411.97H392.73M388.03 407.27V416.67" stroke="#000" stroke-opacity="0.42" stroke-width="1.1" fill="none"/>
<path d="M383.33 412.57H392.73M388.03 407.87V417.27" stroke="#000" stroke-opacity="0.42" stroke-width="1.1" fill="none"/>
<path d="M383.33 425.10H392.73M388.03 420.40V429.80" stroke="#000" stroke-opacity="0.42" stroke-width="1.1" fill="none"/>
<path d="M383.33 428.99H392.73M388.03 424.29V433.69" stroke="#000" stroke-opacity="0.42" stroke-width="1.1" fill="none"/>
<path d="M383.33 432.70H392.73M388.03 428.00V437.40" stroke="#000" stroke-opacity="0.42" stroke-width="1.1" fill="none"/>
<path d="M383.33 435.64H392.73M388.03 430.94V440.34" stroke="#000" stroke-opacity="0.42" stroke-width="1.1" fill="none"/>
<path d="M383.33 446.61H392.73M388.03 441.91V451.31" stroke="#000" stroke-opacity="0.42" stroke-width="1.1" fill="none"/>
<path d="M383.33 454.91H392.73M388.03 450.21V459.61" stroke="#000" stroke-opacity="0.42" stroke-width="1.1" fill="none"/>
<path d="M383.33 465.88H392.73M388.03 461.18V470.58" stroke="#000" stroke-opacity="0.42" stroke-width="1.1" fill="none"/>
<path d="M383.33 466.14H392.73M388.03 461.44V470.84" stroke="#000" stroke-opacity="0.42" stroke-width="1.1" fill="none"/>
<path d="M383.33 471.84H392.73M388.03 467.14V476.54" stroke="#000" stroke-opacity="0.42" stroke-width="1.1" fill="none"/>
<path d="M407.54 392.70H416.94M412.24 388.00V397.40" stroke="#000" stroke-opacity="0.42" stroke-width="1.1" fill="none"/>
<path d="M407.54 392.70H416.94M412.24 388.00V397.40" stroke="#000" stroke-opacity="0.42" stroke-width="1.1" fill="none"/>
<path d="M407.54 395.29H416.94M412.24 390.59V399.99" stroke="#000" stroke-opacity="0.42" stroke-width="1.1" fill="none"/>
<path d="M431.75 396.16H441.15M436.45 391.46V400.86" stroke="#000" stroke-opacity="0.42" stroke-width="1.1" fill="none"/>
<path d="M431.75 397.02H441.15M436.45 392.32V401.72" stroke="#000" stroke-opacity="0.42" stroke-width="1.1" fill="none"/>
<path d="M431.75 411.97H441.15M436.45 407.27V416.67" stroke="#000" stroke-opacity="0.42" stroke-width="1.1" fill="none"/>
<path d="M431.75 414.39H441.15M436.45 409.69V419.09" stroke="#000" stroke-opacity="0.42" stroke-width="1.1" fill="none"/>
<path d="M431.75 426.14H441.15M436.45 421.44V430.84" stroke="#000" stroke-opacity="0.42" stroke-width="1.1" fill="none"/>
<path d="M431.75 426.40H441.15M436.45 421.70V431.10" stroke="#000" stroke-opacity="0.42" stroke-width="1.1" fill="none"/>
<path d="M431.75 426.83H441.15M436.45 422.13V431.53" stroke="#000" stroke-opacity="0.42" stroke-width="1.1" fill="none"/>
<path d="M431.75 478.67H441.15M436.45 473.97V483.37" stroke="#000" stroke-opacity="0.42" stroke-width="1.1" fill="none"/>
<path d="M431.75 478.67H441.15M436.45 473.97V483.37" stroke="#000" stroke-opacity="0.42" stroke-width="1.1" fill="none"/>
<path d="M431.75 478.67H441.15M436.45 473.97V483.37" stroke="#000" stroke-opacity="0.42" stroke-width="1.1" fill="none"/>
<path d="M431.75 478.67H441.15M436.45 473.97V483.37" stroke="#000" stroke-opacity="0.42" stroke-width="1.1" fill="none"/>
<path d="M455.96 402.29H465.36M460.66 397.59V406.99" stroke="#000" stroke-opacity="0.42" stroke-width="1.1" fill="none"/>
<path d="M455.96 405.66H465.36M460.66 400.96V410.36" stroke="#000" stroke-opacity="0.42" stroke-width="1.1" fill="none"/>
<path d="M455.96 438.49H465.36M460.66 433.79V443.19" stroke="#000" stroke-opacity="0.42" stroke-width="1.1" fill="none"/>
<path d="M455.96 438.49H465.36M460.66 433.79V443.19" stroke="#000" stroke-opacity="0.42" stroke-width="1.1" fill="none"/>
<path d="M455.96 472.88H465.36M460.66 468.18V477.58" stroke="#000" stroke-opacity="0.42" stroke-width="1.1" fill="none"/>
<path d="M455.96 478.67H465.36M460.66 473.97V483.37" stroke="#000" stroke-opacity="0.42" stroke-width="1.1" fill="none"/>
<path d="M480.17 397.02H489.57M484.87 392.32V401.72" stroke="#000" stroke-opacity="0.42" stroke-width="1.1" fill="none"/>
<path d="M480.17 409.72H489.57M484.87 405.02V414.42" stroke="#000" stroke-opacity="0.42" stroke-width="1.1" fill="none"/>
<path d="M480.17 416.89H489.57M484.87 412.19V421.59" stroke="#000" stroke-opacity="0.42" stroke-width="1.1" fill="none"/>
<path d="M480.17 425.10H489.57M484.87 420.40V429.80" stroke="#000" stroke-opacity="0.42" stroke-width="1.1" fill="none"/>
<path d="M480.17 425.53H489.57M484.87 420.83V430.23" stroke="#000" stroke-opacity="0.42" stroke-width="1.1" fill="none"/>
<path d="M480.17 455.60H489.57M484.87 450.90V460.30" stroke="#000" stroke-opacity="0.42" stroke-width="1.1" fill="none"/>
<path d="M480.17 467.78H489.57M484.87 463.08V472.48" stroke="#000" stroke-opacity="0.42" stroke-width="1.1" fill="none"/>
<path d="M480.17 471.41H489.57M484.87 466.71V476.11" stroke="#000" stroke-opacity="0.42" stroke-width="1.1" fill="none"/>
<path d="M480.17 471.76H489.57M484.87 467.06V476.46" stroke="#000" stroke-opacity="0.42" stroke-width="1.1" fill="none"/>
<path d="M480.17 478.67H489.57M484.87 473.97V483.37" stroke="#000" stroke-opacity="0.42" stroke-width="1.1" fill="none"/>
<path d="M504.38 392.70H513.78M509.08 388.00V397.40" stroke="#000" stroke-opacity="0.42" stroke-width="1.1" fill="none"/>
<path d="M504.38 397.02H513.78M509.08 392.32V401.72" stroke="#000" stroke-opacity="0.42" stroke-width="1.1" fill="none"/>
<path d="M504.38 397.02H513.78M509.08 392.32V401.72" stroke="#000" stroke-opacity="0.42" stroke-width="1.1" fill="none"/>
<path d="M504.38 407.82H513.78M509.08 403.12V412.52" stroke="#000" stroke-opacity="0.42" stroke-width="1.1" fill="none"/>
<path d="M528.59 401.69H537.99M533.29 396.99V406.39" stroke="#000" stroke-opacity="0.42" stroke-width="1.1" fill="none"/>
<path d="M528.59 416.89H537.99M533.29 412.19V421.59" stroke="#000" stroke-opacity="0.42" stroke-width="1.1" fill="none"/>
<path d="M528.59 430.80H537.99M533.29 426.10V435.50" stroke="#000" stroke-opacity="0.42" stroke-width="1.1" fill="none"/>
<path d="M528.59 450.93H537.99M533.29 446.23V455.63" stroke="#000" stroke-opacity="0.42" stroke-width="1.1" fill="none"/>
<path d="M528.59 458.02H537.99M533.29 453.32V462.72" stroke="#000" stroke-opacity="0.42" stroke-width="1.1" fill="none"/>
<path d="M528.59 463.12H537.99M533.29 458.42V467.82" stroke="#000" stroke-opacity="0.42" stroke-width="1.1" fill="none"/>
<path d="M528.59 478.24H537.99M533.29 473.54V482.94" stroke="#000" stroke-opacity="0.42" stroke-width="1.1" fill="none"/>
<path d="M528.59 478.24H537.99M533.29 473.54V482.94" stroke="#000" stroke-opacity="0.42" stroke-width="1.1" fill="none"/>
<path d="M528.59 478.24H537.99M533.29 473.54V482.94" stroke="#000" stroke-opacity="0.42" stroke-width="1.1" fill="none"/>
<path d="M601.22 397.02H610.62M605.92 392.32V401.72" stroke="#000" stroke-opacity="0.42" stroke-width="1.1" fill="none"/>
<path d="M601.22 409.98H610.62M605.92 405.28V414.68" stroke="#000" stroke-opacity="0.42" stroke-width="1.1" fill="none"/>
<path d="M601.22 414.39H610.62M605.92 409.69V419.09" stroke="#000" stroke-opacity="0.42" stroke-width="1.1" fill="none"/>
<path d="M601.22 421.30H610.62M605.92 416.60V426.00" stroke="#000" stroke-opacity="0.42" stroke-width="1.1" fill="none"/>
<path d="M601.22 475.04H610.62M605.92 470.34V479.74" stroke="#000" stroke-opacity="0.42" stroke-width="1.1" fill="none"/>
<path d="M601.22 475.99H610.62M605.92 471.29V480.69" stroke="#000" stroke-opacity="0.42" stroke-width="1.1" fill="none"/>
<path d="M601.22 477.03H610.62M605.92 472.33V481.73" stroke="#000" stroke-opacity="0.42" stroke-width="1.1" fill="none"/>
<path d="M601.22 478.06H610.62M605.92 473.36V482.76" stroke="#000" stroke-opacity="0.42" stroke-width="1.1" fill="none"/>
<path d="M601.22 479.10H610.62M605.92 474.40V483.80" stroke="#000" stroke-opacity="0.42" stroke-width="1.1" fill="none"/>
<path d="M649.64 392.70H659.04M654.34 388.00V397.40" stroke="#000" stroke-opacity="0.42" stroke-width="1.1" fill="none"/>
<path d="M649.64 397.02H659.04M654.34 392.32V401.72" stroke="#000" stroke-opacity="0.42" stroke-width="1.1" fill="none"/>
<path d="M649.64 397.88H659.04M654.34 393.18V402.58" stroke="#000" stroke-opacity="0.42" stroke-width="1.1" fill="none"/>
<path d="M649.64 400.04H659.04M654.34 395.34V404.74" stroke="#000" stroke-opacity="0.42" stroke-width="1.1" fill="none"/>
<path d="M649.64 403.93H659.04M654.34 399.23V408.63" stroke="#000" stroke-opacity="0.42" stroke-width="1.1" fill="none"/>
<path d="M649.64 408.68H659.04M654.34 403.98V413.38" stroke="#000" stroke-opacity="0.42" stroke-width="1.1" fill="none"/>
<path d="M649.64 413.44H659.04M654.34 408.74V418.14" stroke="#000" stroke-opacity="0.42" stroke-width="1.1" fill="none"/>
<path d="M649.64 418.97H659.04M654.34 414.27V423.67" stroke="#000" stroke-opacity="0.42" stroke-width="1.1" fill="none"/>
<rect x="66.00" y="392.70" width="14.60" height="0.01" fill="#1fbcc5" stroke="#000" stroke-width="2" stroke-linejoin="round"/>
<line x1="67.00" y1="392.70" x2="79.60" y2="392.70" stroke="#000" stroke-width="4" stroke-linecap="round"/>
<rect x="90.21" y="392.70" width="14.60" height="0.01" fill="#1fbcc5" stroke="#000" stroke-width="2" stroke-linejoin="round"/>
<line x1="91.21" y1="392.70" x2="103.81" y2="392.70" stroke="#000" stroke-width="4" stroke-linecap="round"/>
<rect x="114.42" y="392.70" width="14.60" height="0.01" fill="#1fbcc5" stroke="#000" stroke-width="2" stroke-linejoin="round"/>
<line x1="115.42" y1="392.70" x2="128.02" y2="392.70" stroke="#000" stroke-width="4" stroke-linecap="round"/>
<line x1="145.93" y1="421.04" x2="145.93" y2="460.18" stroke="#000" stroke-width="2.0"/>
<rect x="138.63" y="393.82" width="14.60" height="27.22" fill="#1fbcc5" stroke="#000" stroke-width="2" stroke-linejoin="round"/>
<line x1="138.63" y1="411.79" x2="153.23" y2="411.79" stroke="#000" stroke-width="4"/>
<rect x="162.84" y="392.70" width="14.60" height="0.01" fill="#1fbcc5" stroke="#000" stroke-width="2" stroke-linejoin="round"/>
<line x1="163.84" y1="392.70" x2="176.44" y2="392.70" stroke="#000" stroke-width="4" stroke-linecap="round"/>
<rect x="187.05" y="392.70" width="14.60" height="0.01" fill="#1fbcc5" stroke="#000" stroke-width="2" stroke-linejoin="round"/>
<line x1="188.05" y1="392.70" x2="200.65" y2="392.70" stroke="#000" stroke-width="4" stroke-linecap="round"/>
<line x1="218.56" y1="474.43" x2="218.56" y2="478.67" stroke="#000" stroke-width="2.0"/>
<rect x="211.26" y="393.56" width="14.60" height="80.87" fill="#1fbcc5" stroke="#000" stroke-width="2" stroke-linejoin="round"/>
<line x1="211.26" y1="399.35" x2="225.86" y2="399.35" stroke="#000" stroke-width="4"/>
<rect x="235.47" y="392.70" width="14.60" height="0.01" fill="#1fbcc5" stroke="#000" stroke-width="2" stroke-linejoin="round"/>
<line x1="236.47" y1="392.70" x2="249.07" y2="392.70" stroke="#000" stroke-width="4" stroke-linecap="round"/>
<rect x="259.68" y="392.70" width="14.60" height="0.01" fill="#1fbcc5" stroke="#000" stroke-width="2" stroke-linejoin="round"/>
<line x1="260.68" y1="392.70" x2="273.28" y2="392.70" stroke="#000" stroke-width="4" stroke-linecap="round"/>
<line x1="291.19" y1="397.88" x2="291.19" y2="404.62" stroke="#000" stroke-width="2.0"/>
<rect x="283.89" y="392.70" width="14.60" height="5.18" fill="#1fbcc5" stroke="#000" stroke-width="2" stroke-linejoin="round"/>
<line x1="283.89" y1="392.70" x2="298.49" y2="392.70" stroke="#000" stroke-width="4"/>
<rect x="308.10" y="392.70" width="14.60" height="0.01" fill="#1fbcc5" stroke="#000" stroke-width="2" stroke-linejoin="round"/>
<line x1="309.10" y1="392.70" x2="321.70" y2="392.70" stroke="#000" stroke-width="4" stroke-linecap="round"/>
<rect x="332.31" y="392.70" width="14.60" height="0.01" fill="#1fbcc5" stroke="#000" stroke-width="2" stroke-linejoin="round"/>
<line x1="333.31" y1="392.70" x2="345.91" y2="392.70" stroke="#000" stroke-width="4" stroke-linecap="round"/>
<line x1="363.82" y1="396.42" x2="363.82" y2="400.48" stroke="#000" stroke-width="2.0"/>
<rect x="356.52" y="392.70" width="14.60" height="3.72" fill="#1fbcc5" stroke="#000" stroke-width="2" stroke-linejoin="round"/>
<line x1="357.52" y1="392.70" x2="370.12" y2="392.70" stroke="#000" stroke-width="4" stroke-linecap="round"/>
<rect x="380.73" y="392.70" width="14.60" height="0.01" fill="#1fbcc5" stroke="#000" stroke-width="2" stroke-linejoin="round"/>
<line x1="381.73" y1="392.70" x2="394.33" y2="392.70" stroke="#000" stroke-width="4" stroke-linecap="round"/>
<rect x="404.94" y="392.70" width="14.60" height="0.01" fill="#1fbcc5" stroke="#000" stroke-width="2" stroke-linejoin="round"/>
<line x1="405.94" y1="392.70" x2="418.54" y2="392.70" stroke="#000" stroke-width="4" stroke-linecap="round"/>
<rect x="429.15" y="392.70" width="14.60" height="0.01" fill="#1fbcc5" stroke="#000" stroke-width="2" stroke-linejoin="round"/>
<line x1="430.15" y1="392.70" x2="442.75" y2="392.70" stroke="#000" stroke-width="4" stroke-linecap="round"/>
<rect x="453.36" y="392.70" width="14.60" height="2.16" fill="#1fbcc5" stroke="#000" stroke-width="2" stroke-linejoin="round"/>
<line x1="454.36" y1="392.70" x2="466.96" y2="392.70" stroke="#000" stroke-width="4" stroke-linecap="round"/>
<rect x="477.57" y="392.70" width="14.60" height="0.01" fill="#1fbcc5" stroke="#000" stroke-width="2" stroke-linejoin="round"/>
<line x1="478.57" y1="392.70" x2="491.17" y2="392.70" stroke="#000" stroke-width="4" stroke-linecap="round"/>
<rect x="501.78" y="392.70" width="14.60" height="0.01" fill="#1fbcc5" stroke="#000" stroke-width="2" stroke-linejoin="round"/>
<line x1="502.78" y1="392.70" x2="515.38" y2="392.70" stroke="#000" stroke-width="4" stroke-linecap="round"/>
<rect x="525.99" y="392.70" width="14.60" height="0.01" fill="#1fbcc5" stroke="#000" stroke-width="2" stroke-linejoin="round"/>
<line x1="526.99" y1="392.70" x2="539.59" y2="392.70" stroke="#000" stroke-width="4" stroke-linecap="round"/>
<rect x="550.20" y="392.70" width="14.60" height="85.54" fill="#1fbcc5" stroke="#000" stroke-width="2" stroke-linejoin="round"/>
<line x1="550.20" y1="395.72" x2="564.80" y2="395.72" stroke="#000" stroke-width="4"/>
<line x1="581.71" y1="437.02" x2="581.71" y2="478.67" stroke="#000" stroke-width="2.0"/>
<rect x="574.41" y="392.70" width="14.60" height="44.32" fill="#1fbcc5" stroke="#000" stroke-width="2" stroke-linejoin="round"/>
<line x1="574.41" y1="393.56" x2="589.01" y2="393.56" stroke="#000" stroke-width="4"/>
<rect x="598.62" y="392.70" width="14.60" height="0.01" fill="#1fbcc5" stroke="#000" stroke-width="2" stroke-linejoin="round"/>
<line x1="599.62" y1="392.70" x2="612.22" y2="392.70" stroke="#000" stroke-width="4" stroke-linecap="round"/>
<line x1="630.13" y1="469.34" x2="630.13" y2="478.67" stroke="#000" stroke-width="2.0"/>
<rect x="622.83" y="392.70" width="14.60" height="76.64" fill="#1fbcc5" stroke="#000" stroke-width="2" stroke-linejoin="round"/>
<line x1="622.83" y1="400.22" x2="637.43" y2="400.22" stroke="#000" stroke-width="4"/>
<rect x="647.04" y="392.70" width="14.60" height="0.01" fill="#1fbcc5" stroke="#000" stroke-width="2" stroke-linejoin="round"/>
<line x1="648.04" y1="392.70" x2="660.64" y2="392.70" stroke="#000" stroke-width="4" stroke-linecap="round"/>
<path d="M58.30 388.40V483.30H669.00" fill="none" stroke="#555555" stroke-width="0.95"/>
<line x1="53.30" y1="392.70" x2="58.30" y2="392.70" stroke="#555555" stroke-width="0.95"/>
<text transform="translate(48.30 397.00) scale(1 1.06)" font-size="11.95" text-anchor="end" fill="#141414">1.00</text>
<line x1="53.30" y1="414.30" x2="58.30" y2="414.30" stroke="#555555" stroke-width="0.95"/>
<text transform="translate(48.30 418.60) scale(1 1.06)" font-size="11.95" text-anchor="end" fill="#141414">0.75</text>
<line x1="53.30" y1="435.90" x2="58.30" y2="435.90" stroke="#555555" stroke-width="0.95"/>
<text transform="translate(48.30 440.20) scale(1 1.06)" font-size="11.95" text-anchor="end" fill="#141414">0.50</text>
<line x1="53.30" y1="457.50" x2="58.30" y2="457.50" stroke="#555555" stroke-width="0.95"/>
<text transform="translate(48.30 461.80) scale(1 1.06)" font-size="11.95" text-anchor="end" fill="#141414">0.25</text>
<line x1="53.30" y1="479.10" x2="58.30" y2="479.10" stroke="#555555" stroke-width="0.95"/>
<text transform="translate(48.30 483.40) scale(1 1.06)" font-size="11.95" text-anchor="end" fill="#141414">0</text>
<line x1="73.30" y1="483.30" x2="73.30" y2="488.60" stroke="#555555" stroke-width="0.95"/>
<text transform="translate(73.30 504.30) scale(1 1.06)" font-size="11.95" text-anchor="middle" fill="#141414">29</text>
<line x1="97.51" y1="483.30" x2="97.51" y2="488.60" stroke="#555555" stroke-width="0.95"/>
<text transform="translate(97.51 504.30) scale(1 1.06)" font-size="11.95" text-anchor="middle" fill="#141414">30</text>
<line x1="121.72" y1="483.30" x2="121.72" y2="488.60" stroke="#555555" stroke-width="0.95"/>
<text transform="translate(121.72 504.30) scale(1 1.06)" font-size="11.95" text-anchor="middle" fill="#141414">31</text>
<line x1="145.93" y1="483.30" x2="145.93" y2="488.60" stroke="#555555" stroke-width="0.95"/>
<text transform="translate(145.93 504.30) scale(1 1.06)" font-size="11.95" text-anchor="middle" fill="#141414">32</text>
<line x1="170.14" y1="483.30" x2="170.14" y2="488.60" stroke="#555555" stroke-width="0.95"/>
<text transform="translate(170.14 504.30) scale(1 1.06)" font-size="11.95" text-anchor="middle" fill="#141414">33</text>
<line x1="194.35" y1="483.30" x2="194.35" y2="488.60" stroke="#555555" stroke-width="0.95"/>
<text transform="translate(194.35 504.30) scale(1 1.06)" font-size="11.95" text-anchor="middle" fill="#141414">34</text>
<line x1="218.56" y1="483.30" x2="218.56" y2="488.60" stroke="#555555" stroke-width="0.95"/>
<text transform="translate(218.56 504.30) scale(1 1.06)" font-size="11.95" text-anchor="middle" fill="#141414">35</text>
<line x1="242.77" y1="483.30" x2="242.77" y2="488.60" stroke="#555555" stroke-width="0.95"/>
<text transform="translate(242.77 504.30) scale(1 1.06)" font-size="11.95" text-anchor="middle" fill="#141414">36</text>
<line x1="266.98" y1="483.30" x2="266.98" y2="488.60" stroke="#555555" stroke-width="0.95"/>
<text transform="translate(266.98 504.30) scale(1 1.06)" font-size="11.95" text-anchor="middle" fill="#141414">37</text>
<line x1="291.19" y1="483.30" x2="291.19" y2="488.60" stroke="#555555" stroke-width="0.95"/>
<text transform="translate(291.19 504.30) scale(1 1.06)" font-size="11.95" text-anchor="middle" fill="#141414">38</text>
<line x1="315.40" y1="483.30" x2="315.40" y2="488.60" stroke="#555555" stroke-width="0.95"/>
<text transform="translate(315.40 504.30) scale(1 1.06)" font-size="11.95" text-anchor="middle" fill="#141414">39</text>
<line x1="339.61" y1="483.30" x2="339.61" y2="488.60" stroke="#555555" stroke-width="0.95"/>
<text transform="translate(339.61 504.30) scale(1 1.06)" font-size="11.95" text-anchor="middle" fill="#141414">40</text>
<line x1="363.82" y1="483.30" x2="363.82" y2="488.60" stroke="#555555" stroke-width="0.95"/>
<text transform="translate(363.82 504.30) scale(1 1.06)" font-size="11.95" text-anchor="middle" fill="#141414">41</text>
<line x1="388.03" y1="483.30" x2="388.03" y2="488.60" stroke="#555555" stroke-width="0.95"/>
<text transform="translate(388.03 504.30) scale(1 1.06)" font-size="11.95" text-anchor="middle" fill="#141414">42</text>
<line x1="412.24" y1="483.30" x2="412.24" y2="488.60" stroke="#555555" stroke-width="0.95"/>
<text transform="translate(412.24 504.30) scale(1 1.06)" font-size="11.95" text-anchor="middle" fill="#141414">43</text>
<line x1="436.45" y1="483.30" x2="436.45" y2="488.60" stroke="#555555" stroke-width="0.95"/>
<text transform="translate(436.45 504.30) scale(1 1.06)" font-size="11.95" text-anchor="middle" fill="#141414">44</text>
<line x1="460.66" y1="483.30" x2="460.66" y2="488.60" stroke="#555555" stroke-width="0.95"/>
<text transform="translate(460.66 504.30) scale(1 1.06)" font-size="11.95" text-anchor="middle" fill="#141414">45</text>
<line x1="484.87" y1="483.30" x2="484.87" y2="488.60" stroke="#555555" stroke-width="0.95"/>
<text transform="translate(484.87 504.30) scale(1 1.06)" font-size="11.95" text-anchor="middle" fill="#141414">46</text>
<line x1="509.08" y1="483.30" x2="509.08" y2="488.60" stroke="#555555" stroke-width="0.95"/>
<text transform="translate(509.08 504.30) scale(1 1.06)" font-size="11.95" text-anchor="middle" fill="#141414">47</text>
<line x1="533.29" y1="483.30" x2="533.29" y2="488.60" stroke="#555555" stroke-width="0.95"/>
<text transform="translate(533.29 504.30) scale(1 1.06)" font-size="11.95" text-anchor="middle" fill="#141414">48</text>
<line x1="557.50" y1="483.30" x2="557.50" y2="488.60" stroke="#555555" stroke-width="0.95"/>
<text transform="translate(557.50 504.30) scale(1 1.06)" font-size="11.95" text-anchor="middle" fill="#141414">49</text>
<line x1="581.71" y1="483.30" x2="581.71" y2="488.60" stroke="#555555" stroke-width="0.95"/>
<text transform="translate(581.71 504.30) scale(1 1.06)" font-size="11.95" text-anchor="middle" fill="#141414">50</text>
<line x1="605.92" y1="483.30" x2="605.92" y2="488.60" stroke="#555555" stroke-width="0.95"/>
<text transform="translate(605.92 504.30) scale(1 1.06)" font-size="11.95" text-anchor="middle" fill="#141414">51</text>
<line x1="630.13" y1="483.30" x2="630.13" y2="488.60" stroke="#555555" stroke-width="0.95"/>
<text transform="translate(630.13 504.30) scale(1 1.06)" font-size="11.95" text-anchor="middle" fill="#141414">52</text>
<line x1="654.34" y1="483.30" x2="654.34" y2="488.60" stroke="#555555" stroke-width="0.95"/>
<text transform="translate(654.34 504.30) scale(1 1.06)" font-size="11.95" text-anchor="middle" fill="#141414">53</text>
<text transform="translate(363.65 523.00) scale(1 1.06)" font-size="11.95" text-anchor="middle" fill="#141414">PD subject ID</text>
<text transform="translate(9.30 435.90) rotate(-90) scale(1.0 1.1)" font-size="11.95" text-anchor="middle" fill="#141414">PD pred. score</text>
<text transform="translate(2.80 386.80) scale(0.85 1.06)" font-size="12.7" text-anchor="start" fill="#000" font-weight="bold">e</text>
<rect x="66" y="464" width="28.4" height="10.3" fill="#efefef"/>
<path d="M69.1 469.2H77.7M85.6 469.2H92.2" stroke="#e1b550" stroke-width="2"/>
<text transform="translate(101.50 473.00) scale(1 1.06)" font-size="10" text-anchor="start" fill="#141414">threshold</text>
<text transform="translate(667.60 414.30) scale(1 1.06)" font-size="10" text-anchor="middle" fill="#141414">PD</text>
<text transform="translate(658.50 466.90) scale(1 1.06)" font-size="10" text-anchor="middle" fill="#141414">Non-PD</text>
<path d="M668.8 433.9V422.0M668.8 438.6V450.6" stroke="#000" stroke-width="1.1" fill="none"/>
<path d="M668.8 419.0l2.6 5.4h-5.2zM668.8 453.6l2.6 -5.4h-5.2z" fill="#000"/>
<path d="M65.7 692.4 L66.8 678.8 L68.1 665.3 L70.1 651.9 L73.2 638.5 L77.7 625.1 L78.9 622.3 L84.8 610.8 L88.0 606.5 L92.2 602.2 L96.0 598.4 L100.9 594.7 L104.5 591.4 L108.4 588.5 L112.5 585.4 L117.0 582.3 L123.0 579.7 L129.5 577.3 L136.9 574.1 L142.0 572.6 L148.1 571.1 L160.5 569.1 L171.7 567.4 L181.6 566.5 L213.2 566.4 L213.2 692.4 L65.7 692.4 Z" fill="#cfe8e0" stroke="none"/>
<path d="M65.7 692.4 L66.8 678.8 L68.1 665.3 L70.1 651.9 L73.2 638.5 L77.7 625.1 L78.9 622.3 L84.8 610.8 L88.0 606.5 L92.2 602.2 L96.0 598.4 L100.9 594.7 L104.5 591.4 L108.4 588.5 L112.5 585.4 L117.0 582.3 L123.0 579.7 L129.5 577.3 L136.9 574.1 L142.0 572.6 L148.1 571.1 L160.5 569.1 L171.7 567.4 L181.6 566.5 L213.2 566.4" fill="none" stroke="#70a797" stroke-width="2.0" stroke-linejoin="round" stroke-linecap="butt"/>
<path d="M58.40 560.20V698.40H220.60" fill="none" stroke="#6c6c6c" stroke-width="0.95"/>
<line x1="65.70" y1="698.40" x2="65.70" y2="703.90" stroke="#6c6c6c" stroke-width="0.95"/>
<text transform="translate(65.70 717.60) scale(1 1.06)" font-size="11.95" text-anchor="middle" fill="#141414">1.0</text>
<line x1="95.20" y1="698.40" x2="95.20" y2="703.90" stroke="#6c6c6c" stroke-width="0.95"/>
<text transform="translate(95.20 717.60) scale(1 1.06)" font-size="11.95" text-anchor="middle" fill="#141414">0.8</text>
<line x1="124.70" y1="698.40" x2="124.70" y2="703.90" stroke="#6c6c6c" stroke-width="0.95"/>
<text transform="translate(124.70 717.60) scale(1 1.06)" font-size="11.95" text-anchor="middle" fill="#141414">0.6</text>
<line x1="154.20" y1="698.40" x2="154.20" y2="703.90" stroke="#6c6c6c" stroke-width="0.95"/>
<text transform="translate(154.20 717.60) scale(1 1.06)" font-size="11.95" text-anchor="middle" fill="#141414">0.4</text>
<line x1="183.70" y1="698.40" x2="183.70" y2="703.90" stroke="#6c6c6c" stroke-width="0.95"/>
<text transform="translate(183.70 717.60) scale(1 1.06)" font-size="11.95" text-anchor="middle" fill="#141414">0.2</text>
<line x1="213.20" y1="698.40" x2="213.20" y2="703.90" stroke="#6c6c6c" stroke-width="0.95"/>
<text transform="translate(213.20 717.60) scale(1 1.06)" font-size="11.95" text-anchor="middle" fill="#141414">0</text>
<line x1="52.90" y1="566.40" x2="58.40" y2="566.40" stroke="#6c6c6c" stroke-width="0.95"/>
<text transform="translate(48.50 570.70) scale(1 1.06)" font-size="11.95" text-anchor="end" fill="#141414">1.0</text>
<line x1="52.90" y1="591.60" x2="58.40" y2="591.60" stroke="#6c6c6c" stroke-width="0.95"/>
<text transform="translate(48.50 595.90) scale(1 1.06)" font-size="11.95" text-anchor="end" fill="#141414">0.8</text>
<line x1="52.90" y1="616.80" x2="58.40" y2="616.80" stroke="#6c6c6c" stroke-width="0.95"/>
<text transform="translate(48.50 621.10) scale(1 1.06)" font-size="11.95" text-anchor="end" fill="#141414">0.6</text>
<line x1="52.90" y1="642.00" x2="58.40" y2="642.00" stroke="#6c6c6c" stroke-width="0.95"/>
<text transform="translate(48.50 646.30) scale(1 1.06)" font-size="11.95" text-anchor="end" fill="#141414">0.4</text>
<line x1="52.90" y1="667.20" x2="58.40" y2="667.20" stroke="#6c6c6c" stroke-width="0.95"/>
<text transform="translate(48.50 671.50) scale(1 1.06)" font-size="11.95" text-anchor="end" fill="#141414">0.2</text>
<line x1="52.90" y1="692.40" x2="58.40" y2="692.40" stroke="#6c6c6c" stroke-width="0.95"/>
<text transform="translate(48.50 696.70) scale(1 1.06)" font-size="11.95" text-anchor="end" fill="#141414">0</text>
<text transform="translate(139.45 736.60) scale(1 1.06)" font-size="11.95" text-anchor="middle" fill="#141414">Specificity</text>
<text transform="translate(9.60 629.40) rotate(-90) scale(1.0 1.1)" font-size="11.95" text-anchor="middle" fill="#141414">Sensitivity</text>
<text transform="translate(139.40 625.00) scale(1 1.06)" font-size="11.95" text-anchor="middle" fill="#141414">(External test)</text>
<text transform="translate(139.40 643.60) scale(1 1.06)" font-size="11.95" text-anchor="middle" fill="#141414">Mayo clinic</text>
<text transform="translate(139.40 662.20) scale(1 1.06)" font-size="11.95" text-anchor="middle" fill="#141414">AUC: 0.851</text>
<text transform="translate(2.80 555.00) scale(0.85 1.0)" font-size="14.2" text-anchor="start" fill="#000" font-weight="bold">f</text>
<path d="M296.9 692.4 L298.2 653.6 L300.0 653.6 L300.8 643.9 L301.5 643.9 L302.3 634.2 L311.6 634.2 L312.1 614.9 L315.4 614.9 L315.8 605.2 L320.9 605.2 L321.3 595.5 L333.1 595.5 L333.5 585.8 L343.9 585.8 L344.3 576.1 L402.9 576.1 L402.9 566.4 L444.2 566.4 L444.2 692.4 L296.9 692.4 Z" fill="#fbd6d1" stroke="none"/>
<path d="M296.9 692.4 L298.2 653.6 L300.0 653.6 L300.8 643.9 L301.5 643.9 L302.3 634.2 L311.6 634.2 L312.1 614.9 L315.4 614.9 L315.8 605.2 L320.9 605.2 L321.3 595.5 L333.1 595.5 L333.5 585.8 L343.9 585.8 L344.3 576.1 L402.9 576.1 L402.9 566.4 L444.2 566.4" fill="none" stroke="#d37b73" stroke-width="2.0" stroke-linejoin="round" stroke-linecap="butt"/>
<path d="M289.80 560.20V698.40H451.60" fill="none" stroke="#6c6c6c" stroke-width="0.95"/>
<line x1="296.90" y1="698.40" x2="296.90" y2="703.90" stroke="#6c6c6c" stroke-width="0.95"/>
<text transform="translate(296.90 717.60) scale(1 1.06)" font-size="11.95" text-anchor="middle" fill="#141414">1.0</text>
<line x1="326.36" y1="698.40" x2="326.36" y2="703.90" stroke="#6c6c6c" stroke-width="0.95"/>
<text transform="translate(326.36 717.60) scale(1 1.06)" font-size="11.95" text-anchor="middle" fill="#141414">0.8</text>
<line x1="355.82" y1="698.40" x2="355.82" y2="703.90" stroke="#6c6c6c" stroke-width="0.95"/>
<text transform="translate(355.82 717.60) scale(1 1.06)" font-size="11.95" text-anchor="middle" fill="#141414">0.6</text>
<line x1="385.28" y1="698.40" x2="385.28" y2="703.90" stroke="#6c6c6c" stroke-width="0.95"/>
<text transform="translate(385.28 717.60) scale(1 1.06)" font-size="11.95" text-anchor="middle" fill="#141414">0.4</text>
<line x1="414.74" y1="698.40" x2="414.74" y2="703.90" stroke="#6c6c6c" stroke-width="0.95"/>
<text transform="translate(414.74 717.60) scale(1 1.06)" font-size="11.95" text-anchor="middle" fill="#141414">0.2</text>
<line x1="444.20" y1="698.40" x2="444.20" y2="703.90" stroke="#6c6c6c" stroke-width="0.95"/>
<text transform="translate(444.20 717.60) scale(1 1.06)" font-size="11.95" text-anchor="middle" fill="#141414">0</text>
<line x1="284.30" y1="566.40" x2="289.80" y2="566.40" stroke="#6c6c6c" stroke-width="0.95"/>
<text transform="translate(279.90 570.70) scale(1 1.06)" font-size="11.95" text-anchor="end" fill="#141414">1.0</text>
<line x1="284.30" y1="591.60" x2="289.80" y2="591.60" stroke="#6c6c6c" stroke-width="0.95"/>
<text transform="translate(279.90 595.90) scale(1 1.06)" font-size="11.95" text-anchor="end" fill="#141414">0.8</text>
<line x1="284.30" y1="616.80" x2="289.80" y2="616.80" stroke="#6c6c6c" stroke-width="0.95"/>
<text transform="translate(279.90 621.10) scale(1 1.06)" font-size="11.95" text-anchor="end" fill="#141414">0.6</text>
<line x1="284.30" y1="642.00" x2="289.80" y2="642.00" stroke="#6c6c6c" stroke-width="0.95"/>
<text transform="translate(279.90 646.30) scale(1 1.06)" font-size="11.95" text-anchor="end" fill="#141414">0.4</text>
<line x1="284.30" y1="667.20" x2="289.80" y2="667.20" stroke="#6c6c6c" stroke-width="0.95"/>
<text transform="translate(279.90 671.50) scale(1 1.06)" font-size="11.95" text-anchor="end" fill="#141414">0.2</text>
<line x1="284.30" y1="692.40" x2="289.80" y2="692.40" stroke="#6c6c6c" stroke-width="0.95"/>
<text transform="translate(279.90 696.70) scale(1 1.06)" font-size="11.95" text-anchor="end" fill="#141414">0</text>
<text transform="translate(370.55 736.60) scale(1 1.06)" font-size="11.95" text-anchor="middle" fill="#141414">Specificity</text>
<text transform="translate(248.60 629.40) rotate(-90) scale(1.0 1.1)" font-size="11.95" text-anchor="middle" fill="#141414">Sensitivity</text>
<text transform="translate(372.20 625.20) scale(1 1.06)" font-size="11.95" text-anchor="middle" fill="#141414">(Cross-institution test)</text>
<text transform="translate(372.20 642.70) scale(1 1.06)" font-size="11.95" text-anchor="middle" fill="#141414">SHHS</text>
<text transform="translate(372.20 660.30) scale(1 1.06)" font-size="11.95" text-anchor="middle" fill="#141414">AUC: 0.857</text>
<text transform="translate(239.20 554.50) scale(1.0 1.06)" font-size="14" text-anchor="start" fill="#000" font-weight="bold" style='font-family:"Liberation Serif", "DejaVu Serif", serif'>g</text>
<path d="M529.8 692.4 L530.3 672.7 L531.1 657.0 L532.7 643.3 L534.6 635.4 L537.6 628.6 L539.5 626.6 L541.5 626.2 L543.4 619.7 L545.4 608.0 L549.3 603.1 L556.2 602.1 L559.1 599.1 L561.1 599.1 L563.7 593.3 L566.0 587.4 L569.0 586.4 L570.9 582.5 L573.5 577.8 L576.4 576.3 L586.0 575.9 L587.4 573.7 L593.9 572.8 L595.1 570.7 L627.2 570.7 L628.4 568.4 L666.6 568.0 L668.0 566.4 L677.2 566.4 L677.2 692.4 L529.8 692.4 Z" fill="#fde9bc" stroke="none"/>
<path d="M529.8 692.4 L530.3 672.7 L531.1 657.0 L532.7 643.3 L534.6 635.4 L537.6 628.6 L539.5 626.6 L541.5 626.2 L543.4 619.7 L545.4 608.0 L549.3 603.1 L556.2 602.1 L559.1 599.1 L561.1 599.1 L563.7 593.3 L566.0 587.4 L569.0 586.4 L570.9 582.5 L573.5 577.8 L576.4 576.3 L586.0 575.9 L587.4 573.7 L593.9 572.8 L595.1 570.7 L627.2 570.7 L628.4 568.4 L666.6 568.0 L668.0 566.4 L677.2 566.4" fill="none" stroke="#e6bc50" stroke-width="2.0" stroke-linejoin="round" stroke-linecap="butt"/>
<path d="M523.20 560.20V698.40H685.00" fill="none" stroke="#6c6c6c" stroke-width="0.95"/>
<line x1="529.80" y1="698.40" x2="529.80" y2="703.90" stroke="#6c6c6c" stroke-width="0.95"/>
<text transform="translate(529.80 717.60) scale(1 1.06)" font-size="11.95" text-anchor="middle" fill="#141414">1.0</text>
<line x1="559.28" y1="698.40" x2="559.28" y2="703.90" stroke="#6c6c6c" stroke-width="0.95"/>
<text transform="translate(559.28 717.60) scale(1 1.06)" font-size="11.95" text-anchor="middle" fill="#141414">0.8</text>
<line x1="588.76" y1="698.40" x2="588.76" y2="703.90" stroke="#6c6c6c" stroke-width="0.95"/>
<text transform="translate(588.76 717.60) scale(1 1.06)" font-size="11.95" text-anchor="middle" fill="#141414">0.6</text>
<line x1="618.24" y1="698.40" x2="618.24" y2="703.90" stroke="#6c6c6c" stroke-width="0.95"/>
<text transform="translate(618.24 717.60) scale(1 1.06)" font-size="11.95" text-anchor="middle" fill="#141414">0.4</text>
<line x1="647.72" y1="698.40" x2="647.72" y2="703.90" stroke="#6c6c6c" stroke-width="0.95"/>
<text transform="translate(647.72 717.60) scale(1 1.06)" font-size="11.95" text-anchor="middle" fill="#141414">0.2</text>
<line x1="677.20" y1="698.40" x2="677.20" y2="703.90" stroke="#6c6c6c" stroke-width="0.95"/>
<text transform="translate(677.20 717.60) scale(1 1.06)" font-size="11.95" text-anchor="middle" fill="#141414">0</text>
<line x1="517.70" y1="566.40" x2="523.20" y2="566.40" stroke="#6c6c6c" stroke-width="0.95"/>
<text transform="translate(513.30 570.70) scale(1 1.06)" font-size="11.95" text-anchor="end" fill="#141414">1.0</text>
<line x1="517.70" y1="591.60" x2="523.20" y2="591.60" stroke="#6c6c6c" stroke-width="0.95"/>
<text transform="translate(513.30 595.90) scale(1 1.06)" font-size="11.95" text-anchor="end" fill="#141414">0.8</text>
<line x1="517.70" y1="616.80" x2="523.20" y2="616.80" stroke="#6c6c6c" stroke-width="0.95"/>
<text transform="translate(513.30 621.10) scale(1 1.06)" font-size="11.95" text-anchor="end" fill="#141414">0.6</text>
<line x1="517.70" y1="642.00" x2="523.20" y2="642.00" stroke="#6c6c6c" stroke-width="0.95"/>
<text transform="translate(513.30 646.30) scale(1 1.06)" font-size="11.95" text-anchor="end" fill="#141414">0.4</text>
<line x1="517.70" y1="667.20" x2="523.20" y2="667.20" stroke="#6c6c6c" stroke-width="0.95"/>
<text transform="translate(513.30 671.50) scale(1 1.06)" font-size="11.95" text-anchor="end" fill="#141414">0.2</text>
<line x1="517.70" y1="692.40" x2="523.20" y2="692.40" stroke="#6c6c6c" stroke-width="0.95"/>
<text transform="translate(513.30 696.70) scale(1 1.06)" font-size="11.95" text-anchor="end" fill="#141414">0</text>
<text transform="translate(603.50 736.60) scale(1 1.06)" font-size="11.95" text-anchor="middle" fill="#141414">Specificity</text>
<text transform="translate(482.10 629.40) rotate(-90) scale(1.0 1.1)" font-size="11.95" text-anchor="middle" fill="#141414">Sensitivity</text>
<text transform="translate(603.60 625.20) scale(1 1.06)" font-size="11.95" text-anchor="middle" fill="#141414">(Cross-institution test)</text>
<text transform="translate(603.60 642.70) scale(1 1.06)" font-size="11.95" text-anchor="middle" fill="#141414">MrOS</text>
<text transform="translate(603.60 660.30) scale(1 1.06)" font-size="11.95" text-anchor="middle" fill="#141414">AUC: 0.874</text>
<text transform="translate(472.60 554.60) scale(0.85 1.0)" font-size="14.2" text-anchor="start" fill="#000" font-weight="bold">h</text>
</svg>
</body></html>
